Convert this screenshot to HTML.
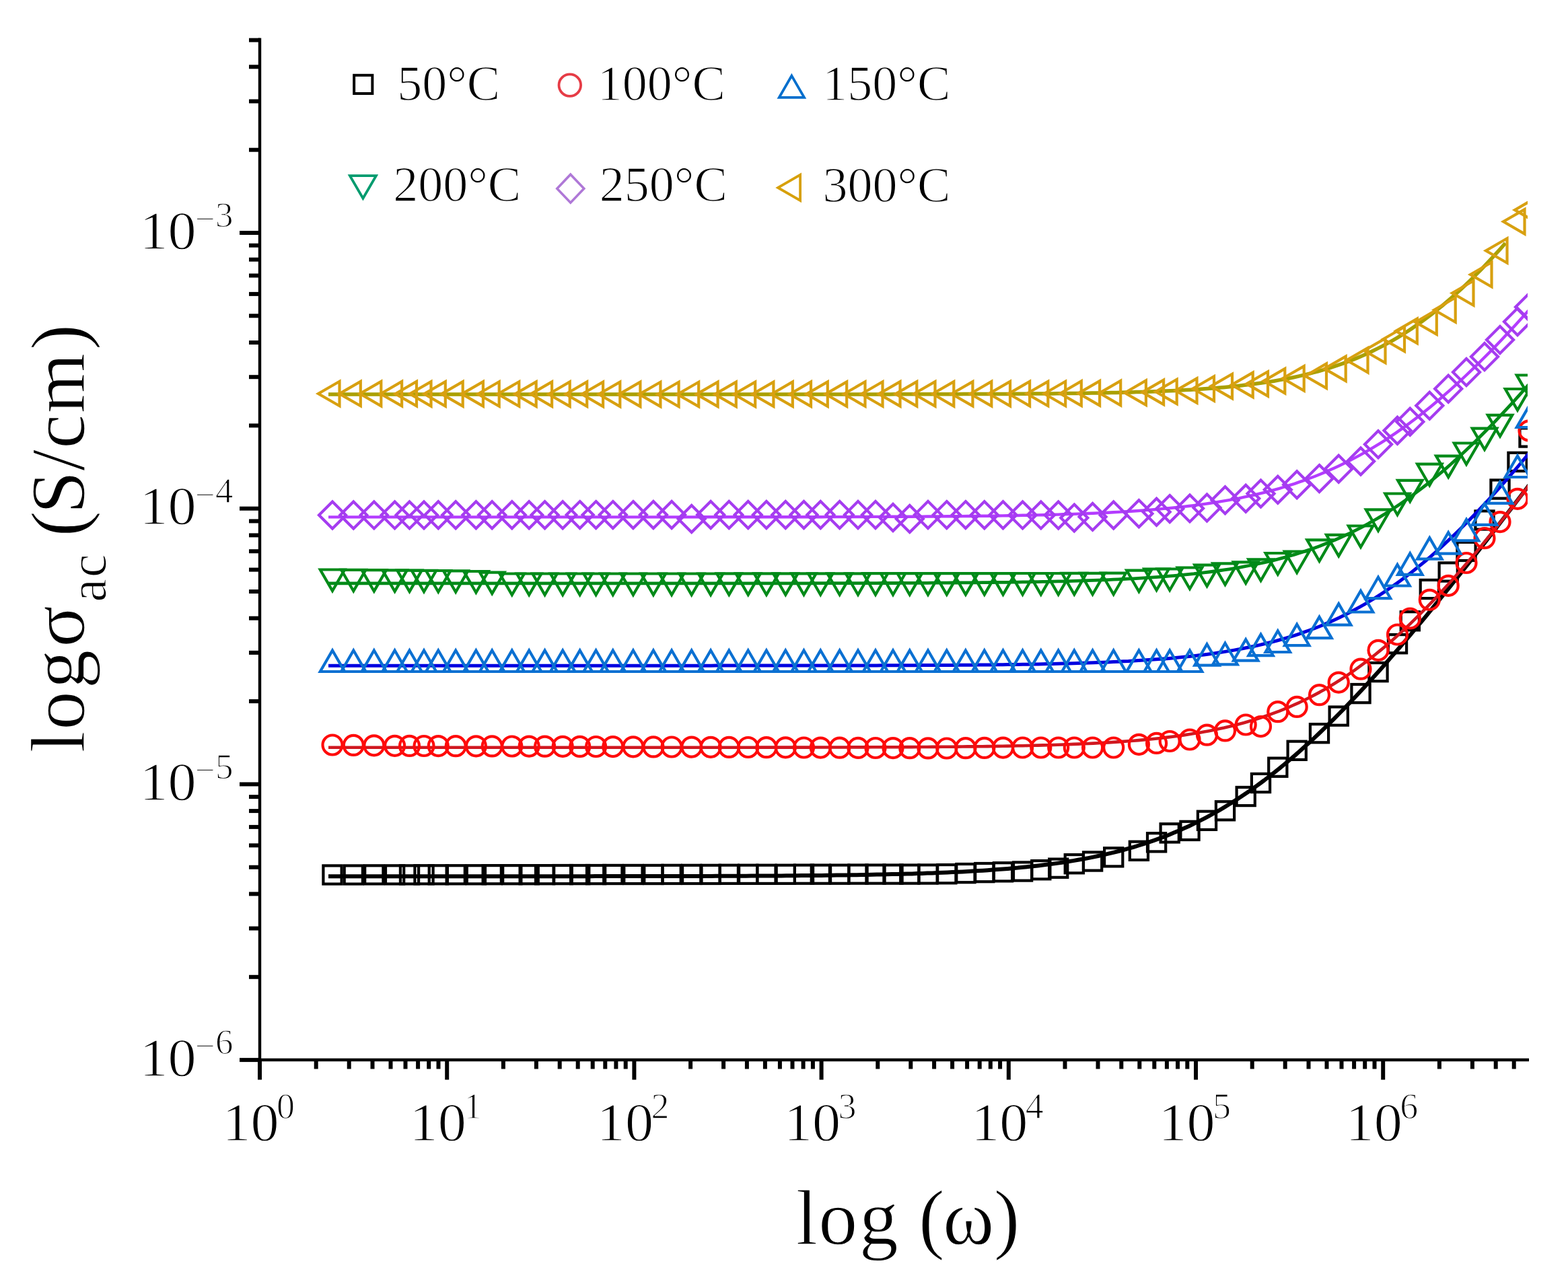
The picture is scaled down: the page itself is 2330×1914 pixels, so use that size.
<!DOCTYPE html><html><head><meta charset="utf-8"><title>log sigma_ac vs log omega</title><style>html,body{margin:0;padding:0;background:#fff;}svg{display:block}text{font-family:"Liberation Serif","DejaVu Serif",serif;fill:#000;stroke:#fff;stroke-width:1.3px;stroke-linejoin:round}</style></head><body>
<svg width="2330" height="1914" viewBox="0 0 2330 1914">
<rect width="2330" height="1914" fill="#fff"/>
<defs><clipPath id="pc"><rect x="386" y="0" width="1884.0" height="1575"/></clipPath></defs>
<g clip-path="url(#pc)">
<path d="M488.0 1302.2 L495.5 1302.2 L503.0 1302.2 L510.4 1302.2 L517.9 1302.2 L525.4 1302.2 L532.9 1302.2 L540.3 1302.2 L547.8 1302.2 L555.3 1302.2 L562.8 1302.2 L570.2 1302.2 L577.7 1302.2 L585.2 1302.2 L592.7 1302.2 L600.2 1302.2 L607.6 1302.2 L615.1 1302.2 L622.6 1302.2 L630.1 1302.2 L637.5 1302.2 L645.0 1302.2 L652.5 1302.2 L660.0 1302.2 L667.4 1302.2 L674.9 1302.2 L682.4 1302.2 L689.9 1302.2 L697.4 1302.2 L704.8 1302.2 L712.3 1302.2 L719.8 1302.2 L727.3 1302.2 L734.7 1302.2 L742.2 1302.2 L749.7 1302.2 L757.2 1302.2 L764.6 1302.2 L772.1 1302.2 L779.6 1302.2 L787.1 1302.2 L794.6 1302.2 L802.0 1302.2 L809.5 1302.2 L817.0 1302.2 L824.5 1302.2 L831.9 1302.2 L839.4 1302.2 L846.9 1302.2 L854.4 1302.2 L861.8 1302.2 L869.3 1302.2 L876.8 1302.2 L884.3 1302.1 L891.8 1302.1 L899.2 1302.1 L906.7 1302.1 L914.2 1302.1 L921.7 1302.1 L929.1 1302.1 L936.6 1302.1 L944.1 1302.1 L951.6 1302.1 L959.1 1302.1 L966.5 1302.1 L974.0 1302.0 L981.5 1302.0 L989.0 1302.0 L996.4 1302.0 L1003.9 1302.0 L1011.4 1302.0 L1018.9 1302.0 L1026.3 1301.9 L1033.8 1301.9 L1041.3 1301.9 L1048.8 1301.9 L1056.3 1301.9 L1063.7 1301.8 L1071.2 1301.8 L1078.7 1301.8 L1086.2 1301.8 L1093.6 1301.7 L1101.1 1301.7 L1108.6 1301.7 L1116.1 1301.6 L1123.5 1301.6 L1131.0 1301.6 L1138.5 1301.5 L1146.0 1301.5 L1153.5 1301.4 L1160.9 1301.4 L1168.4 1301.3 L1175.9 1301.3 L1183.4 1301.2 L1190.8 1301.1 L1198.3 1301.1 L1205.8 1301.0 L1213.3 1300.9 L1220.7 1300.9 L1228.2 1300.8 L1235.7 1300.7 L1243.2 1300.6 L1250.7 1300.5 L1258.1 1300.4 L1265.6 1300.3 L1273.1 1300.2 L1280.6 1300.0 L1288.0 1299.9 L1295.5 1299.8 L1303.0 1299.6 L1310.5 1299.5 L1317.9 1299.3 L1325.4 1299.1 L1332.9 1299.0 L1340.4 1298.8 L1347.9 1298.6 L1355.3 1298.4 L1362.8 1298.1 L1370.3 1297.9 L1377.8 1297.6 L1385.2 1297.4 L1392.7 1297.1 L1400.2 1296.8 L1407.7 1296.5 L1415.1 1296.1 L1422.6 1295.8 L1430.1 1295.4 L1437.6 1295.0 L1445.1 1294.6 L1452.5 1294.1 L1460.0 1293.7 L1467.5 1293.2 L1475.0 1292.6 L1482.4 1292.1 L1489.9 1291.5 L1497.4 1290.9 L1504.9 1290.2 L1512.3 1289.6 L1519.8 1288.8 L1527.3 1288.1 L1534.8 1287.3 L1542.3 1286.4 L1549.7 1285.5 L1557.2 1284.6 L1564.7 1283.6 L1572.2 1282.6 L1579.6 1281.5 L1587.1 1280.3 L1594.6 1279.1 L1602.1 1277.8 L1609.5 1276.5 L1617.0 1275.1 L1624.5 1273.6 L1632.0 1272.0 L1639.5 1270.4 L1646.9 1268.7 L1654.4 1266.9 L1661.9 1265.0 L1669.4 1263.0 L1676.8 1260.9 L1684.3 1258.8 L1691.8 1256.5 L1699.3 1254.1 L1706.7 1251.7 L1714.2 1249.1 L1721.7 1246.4 L1729.2 1243.6 L1736.7 1240.7 L1744.1 1237.6 L1751.6 1234.4 L1759.1 1231.1 L1766.6 1227.7 L1774.0 1224.1 L1781.5 1220.4 L1789.0 1216.6 L1796.5 1212.6 L1803.9 1208.5 L1811.4 1204.3 L1818.9 1199.9 L1826.4 1195.3 L1833.9 1190.6 L1841.3 1185.8 L1848.8 1180.8 L1856.3 1175.7 L1863.8 1170.4 L1871.2 1165.0 L1878.7 1159.5 L1886.2 1153.7 L1893.7 1147.9 L1901.2 1141.9 L1908.6 1135.8 L1916.1 1129.5 L1923.6 1123.1 L1931.1 1116.5 L1938.5 1109.8 L1946.0 1103.0 L1953.5 1096.1 L1961.0 1089.0 L1968.4 1081.8 L1975.9 1074.5 L1983.4 1067.1 L1990.9 1059.5 L1998.4 1051.9 L2005.8 1044.1 L2013.3 1036.2 L2020.8 1028.2 L2028.3 1020.2 L2035.7 1012.0 L2043.2 1003.7 L2050.7 995.4 L2058.2 987.0 L2065.6 978.4 L2073.1 969.8 L2080.6 961.2 L2088.1 952.4 L2095.6 943.6 L2103.0 934.7 L2110.5 925.8 L2118.0 916.8 L2125.5 907.7 L2132.9 898.5 L2140.4 889.4 L2147.9 880.1 L2155.4 870.8 L2162.8 861.5 L2170.3 852.1 L2177.8 842.7 L2185.3 833.2 L2192.8 823.7 L2200.2 814.2 L2207.7 804.6 L2215.2 795.0 L2222.7 785.4 L2230.1 775.7 L2237.6 766.0 L2245.1 756.3 L2252.6 746.5 L2260.0 736.8 L2267.5 727.0 L2275.0 717.1" fill="none" stroke="#000000" stroke-width="6.0" stroke-linejoin="round"/>
<rect x="480.4" y="1286.4" width="27.2" height="27.2" fill="none" stroke="#000000" stroke-width="4.2"/>
<rect x="511.7" y="1286.4" width="27.2" height="27.2" fill="none" stroke="#000000" stroke-width="4.2"/>
<rect x="542.2" y="1286.3" width="27.2" height="27.2" fill="none" stroke="#000000" stroke-width="4.2"/>
<rect x="573.0" y="1286.3" width="27.2" height="27.2" fill="none" stroke="#000000" stroke-width="4.2"/>
<rect x="594.9" y="1286.3" width="27.2" height="27.2" fill="none" stroke="#000000" stroke-width="4.2"/>
<rect x="616.4" y="1286.2" width="27.2" height="27.2" fill="none" stroke="#000000" stroke-width="4.2"/>
<rect x="637.7" y="1286.2" width="27.2" height="27.2" fill="none" stroke="#000000" stroke-width="4.2"/>
<rect x="663.6" y="1286.2" width="27.2" height="27.2" fill="none" stroke="#000000" stroke-width="4.2"/>
<rect x="693.8" y="1286.2" width="27.2" height="27.2" fill="none" stroke="#000000" stroke-width="4.2"/>
<rect x="717.6" y="1286.1" width="27.2" height="27.2" fill="none" stroke="#000000" stroke-width="4.2"/>
<rect x="747.2" y="1286.1" width="27.2" height="27.2" fill="none" stroke="#000000" stroke-width="4.2"/>
<rect x="772.6" y="1286.1" width="27.2" height="27.2" fill="none" stroke="#000000" stroke-width="4.2"/>
<rect x="796.0" y="1286.1" width="27.2" height="27.2" fill="none" stroke="#000000" stroke-width="4.2"/>
<rect x="822.6" y="1286.0" width="27.2" height="27.2" fill="none" stroke="#000000" stroke-width="4.2"/>
<rect x="848.1" y="1286.0" width="27.2" height="27.2" fill="none" stroke="#000000" stroke-width="4.2"/>
<rect x="872.0" y="1286.0" width="27.2" height="27.2" fill="none" stroke="#000000" stroke-width="4.2"/>
<rect x="897.2" y="1285.9" width="27.2" height="27.2" fill="none" stroke="#000000" stroke-width="4.2"/>
<rect x="927.3" y="1285.9" width="27.2" height="27.2" fill="none" stroke="#000000" stroke-width="4.2"/>
<rect x="957.3" y="1285.9" width="27.2" height="27.2" fill="none" stroke="#000000" stroke-width="4.2"/>
<rect x="984.5" y="1285.8" width="27.2" height="27.2" fill="none" stroke="#000000" stroke-width="4.2"/>
<rect x="1014.1" y="1285.8" width="27.2" height="27.2" fill="none" stroke="#000000" stroke-width="4.2"/>
<rect x="1042.5" y="1285.8" width="27.2" height="27.2" fill="none" stroke="#000000" stroke-width="4.2"/>
<rect x="1069.7" y="1285.7" width="27.2" height="27.2" fill="none" stroke="#000000" stroke-width="4.2"/>
<rect x="1098.1" y="1285.7" width="27.2" height="27.2" fill="none" stroke="#000000" stroke-width="4.2"/>
<rect x="1125.3" y="1285.7" width="27.2" height="27.2" fill="none" stroke="#000000" stroke-width="4.2"/>
<rect x="1153.7" y="1285.7" width="27.2" height="27.2" fill="none" stroke="#000000" stroke-width="4.2"/>
<rect x="1180.9" y="1285.6" width="27.2" height="27.2" fill="none" stroke="#000000" stroke-width="4.2"/>
<rect x="1205.7" y="1285.6" width="27.2" height="27.2" fill="none" stroke="#000000" stroke-width="4.2"/>
<rect x="1234.1" y="1285.6" width="27.2" height="27.2" fill="none" stroke="#000000" stroke-width="4.2"/>
<rect x="1261.4" y="1285.5" width="27.2" height="27.2" fill="none" stroke="#000000" stroke-width="4.2"/>
<rect x="1287.4" y="1285.5" width="27.2" height="27.2" fill="none" stroke="#000000" stroke-width="4.2"/>
<rect x="1313.4" y="1285.5" width="27.2" height="27.2" fill="none" stroke="#000000" stroke-width="4.2"/>
<rect x="1338.2" y="1285.5" width="27.2" height="27.2" fill="none" stroke="#000000" stroke-width="4.2"/>
<rect x="1365.4" y="1285.4" width="27.2" height="27.2" fill="none" stroke="#000000" stroke-width="4.2"/>
<rect x="1393.2" y="1285.1" width="27.2" height="27.2" fill="none" stroke="#000000" stroke-width="4.2"/>
<rect x="1421.3" y="1284.0" width="27.2" height="27.2" fill="none" stroke="#000000" stroke-width="4.2"/>
<rect x="1449.2" y="1283.0" width="27.2" height="27.2" fill="none" stroke="#000000" stroke-width="4.2"/>
<rect x="1476.9" y="1282.2" width="27.2" height="27.2" fill="none" stroke="#000000" stroke-width="4.2"/>
<rect x="1506.0" y="1281.4" width="27.2" height="27.2" fill="none" stroke="#000000" stroke-width="4.2"/>
<rect x="1533.2" y="1279.1" width="27.2" height="27.2" fill="none" stroke="#000000" stroke-width="4.2"/>
<rect x="1559.1" y="1276.6" width="27.2" height="27.2" fill="none" stroke="#000000" stroke-width="4.2"/>
<rect x="1582.7" y="1270.1" width="27.2" height="27.2" fill="none" stroke="#000000" stroke-width="4.2"/>
<rect x="1610.0" y="1266.4" width="27.2" height="27.2" fill="none" stroke="#000000" stroke-width="4.2"/>
<rect x="1641.1" y="1260.2" width="27.2" height="27.2" fill="none" stroke="#000000" stroke-width="4.2"/>
<rect x="1678.8" y="1250.7" width="27.2" height="27.2" fill="none" stroke="#000000" stroke-width="4.2"/>
<rect x="1705.0" y="1238.2" width="27.2" height="27.2" fill="none" stroke="#000000" stroke-width="4.2"/>
<rect x="1724.6" y="1224.3" width="27.2" height="27.2" fill="none" stroke="#000000" stroke-width="4.2"/>
<rect x="1754.4" y="1220.8" width="27.2" height="27.2" fill="none" stroke="#000000" stroke-width="4.2"/>
<rect x="1779.9" y="1205.7" width="27.2" height="27.2" fill="none" stroke="#000000" stroke-width="4.2"/>
<rect x="1806.9" y="1191.2" width="27.2" height="27.2" fill="none" stroke="#000000" stroke-width="4.2"/>
<rect x="1837.6" y="1169.9" width="27.2" height="27.2" fill="none" stroke="#000000" stroke-width="4.2"/>
<rect x="1859.9" y="1149.9" width="27.2" height="27.2" fill="none" stroke="#000000" stroke-width="4.2"/>
<rect x="1885.2" y="1126.6" width="27.2" height="27.2" fill="none" stroke="#000000" stroke-width="4.2"/>
<rect x="1913.6" y="1101.7" width="27.2" height="27.2" fill="none" stroke="#000000" stroke-width="4.2"/>
<rect x="1946.9" y="1076.1" width="27.2" height="27.2" fill="none" stroke="#000000" stroke-width="4.2"/>
<rect x="1975.6" y="1050.5" width="27.2" height="27.2" fill="none" stroke="#000000" stroke-width="4.2"/>
<rect x="2008.4" y="1017.0" width="27.2" height="27.2" fill="none" stroke="#000000" stroke-width="4.2"/>
<rect x="2034.4" y="985.0" width="27.2" height="27.2" fill="none" stroke="#000000" stroke-width="4.2"/>
<rect x="2062.9" y="943.1" width="27.2" height="27.2" fill="none" stroke="#000000" stroke-width="4.2"/>
<rect x="2081.7" y="909.2" width="27.2" height="27.2" fill="none" stroke="#000000" stroke-width="4.2"/>
<rect x="2110.7" y="861.9" width="27.2" height="27.2" fill="none" stroke="#000000" stroke-width="4.2"/>
<rect x="2138.6" y="836.4" width="27.2" height="27.2" fill="none" stroke="#000000" stroke-width="4.2"/>
<rect x="2165.4" y="805.8" width="27.2" height="27.2" fill="none" stroke="#000000" stroke-width="4.2"/>
<rect x="2192.4" y="759.4" width="27.2" height="27.2" fill="none" stroke="#000000" stroke-width="4.2"/>
<rect x="2215.4" y="713.4" width="27.2" height="27.2" fill="none" stroke="#000000" stroke-width="4.2"/>
<rect x="2241.4" y="672.8" width="27.2" height="27.2" fill="none" stroke="#000000" stroke-width="4.2"/>
<rect x="2258.4" y="636.4" width="27.2" height="27.2" fill="none" stroke="#000000" stroke-width="4.2"/>
<path d="M488.0 1110.7 L495.5 1110.7 L503.0 1110.7 L510.4 1110.7 L517.9 1110.7 L525.4 1110.7 L532.9 1110.7 L540.3 1110.7 L547.8 1110.7 L555.3 1110.7 L562.8 1110.7 L570.2 1110.7 L577.7 1110.7 L585.2 1110.7 L592.7 1110.7 L600.2 1110.7 L607.6 1110.7 L615.1 1110.7 L622.6 1110.7 L630.1 1110.7 L637.5 1110.7 L645.0 1110.7 L652.5 1110.7 L660.0 1110.7 L667.4 1110.7 L674.9 1110.7 L682.4 1110.7 L689.9 1110.7 L697.4 1110.7 L704.8 1110.7 L712.3 1110.7 L719.8 1110.7 L727.3 1110.7 L734.7 1110.7 L742.2 1110.7 L749.7 1110.7 L757.2 1110.7 L764.6 1110.7 L772.1 1110.7 L779.6 1110.7 L787.1 1110.7 L794.6 1110.7 L802.0 1110.7 L809.5 1110.7 L817.0 1110.7 L824.5 1110.7 L831.9 1110.7 L839.4 1110.7 L846.9 1110.7 L854.4 1110.7 L861.8 1110.7 L869.3 1110.7 L876.8 1110.7 L884.3 1110.7 L891.8 1110.7 L899.2 1110.7 L906.7 1110.7 L914.2 1110.7 L921.7 1110.7 L929.1 1110.7 L936.6 1110.7 L944.1 1110.7 L951.6 1110.7 L959.1 1110.7 L966.5 1110.7 L974.0 1110.7 L981.5 1110.7 L989.0 1110.7 L996.4 1110.7 L1003.9 1110.7 L1011.4 1110.7 L1018.9 1110.7 L1026.3 1110.7 L1033.8 1110.7 L1041.3 1110.7 L1048.8 1110.7 L1056.3 1110.7 L1063.7 1110.7 L1071.2 1110.7 L1078.7 1110.7 L1086.2 1110.7 L1093.6 1110.7 L1101.1 1110.7 L1108.6 1110.7 L1116.1 1110.7 L1123.5 1110.7 L1131.0 1110.6 L1138.5 1110.6 L1146.0 1110.6 L1153.5 1110.6 L1160.9 1110.6 L1168.4 1110.6 L1175.9 1110.6 L1183.4 1110.6 L1190.8 1110.6 L1198.3 1110.6 L1205.8 1110.6 L1213.3 1110.5 L1220.7 1110.5 L1228.2 1110.5 L1235.7 1110.5 L1243.2 1110.5 L1250.7 1110.5 L1258.1 1110.5 L1265.6 1110.4 L1273.1 1110.4 L1280.6 1110.4 L1288.0 1110.4 L1295.5 1110.3 L1303.0 1110.3 L1310.5 1110.3 L1317.9 1110.3 L1325.4 1110.2 L1332.9 1110.2 L1340.4 1110.2 L1347.9 1110.1 L1355.3 1110.1 L1362.8 1110.0 L1370.3 1110.0 L1377.8 1110.0 L1385.2 1109.9 L1392.7 1109.9 L1400.2 1109.8 L1407.7 1109.7 L1415.1 1109.7 L1422.6 1109.6 L1430.1 1109.5 L1437.6 1109.4 L1445.1 1109.4 L1452.5 1109.3 L1460.0 1109.2 L1467.5 1109.1 L1475.0 1109.0 L1482.4 1108.9 L1489.9 1108.7 L1497.4 1108.6 L1504.9 1108.5 L1512.3 1108.3 L1519.8 1108.2 L1527.3 1108.0 L1534.8 1107.8 L1542.3 1107.6 L1549.7 1107.4 L1557.2 1107.2 L1564.7 1107.0 L1572.2 1106.8 L1579.6 1106.5 L1587.1 1106.2 L1594.6 1105.9 L1602.1 1105.6 L1609.5 1105.3 L1617.0 1105.0 L1624.5 1104.6 L1632.0 1104.2 L1639.5 1103.8 L1646.9 1103.4 L1654.4 1102.9 L1661.9 1102.4 L1669.4 1101.9 L1676.8 1101.3 L1684.3 1100.7 L1691.8 1100.1 L1699.3 1099.4 L1706.7 1098.7 L1714.2 1098.0 L1721.7 1097.2 L1729.2 1096.3 L1736.7 1095.4 L1744.1 1094.5 L1751.6 1093.5 L1759.1 1092.4 L1766.6 1091.3 L1774.0 1090.1 L1781.5 1088.9 L1789.0 1087.6 L1796.5 1086.2 L1803.9 1084.7 L1811.4 1083.1 L1818.9 1081.5 L1826.4 1079.7 L1833.9 1077.9 L1841.3 1076.0 L1848.8 1074.0 L1856.3 1071.8 L1863.8 1069.6 L1871.2 1067.2 L1878.7 1064.7 L1886.2 1062.2 L1893.7 1059.4 L1901.2 1056.6 L1908.6 1053.6 L1916.1 1050.5 L1923.6 1047.2 L1931.1 1043.8 L1938.5 1040.2 L1946.0 1036.5 L1953.5 1032.6 L1961.0 1028.6 L1968.4 1024.4 L1975.9 1020.0 L1983.4 1015.5 L1990.9 1010.8 L1998.4 1005.9 L2005.8 1000.8 L2013.3 995.6 L2020.8 990.2 L2028.3 984.7 L2035.7 978.9 L2043.2 973.0 L2050.7 966.9 L2058.2 960.7 L2065.6 954.3 L2073.1 947.7 L2080.6 940.9 L2088.1 934.0 L2095.6 926.9 L2103.0 919.6 L2110.5 912.2 L2118.0 904.7 L2125.5 896.9 L2132.9 889.1 L2140.4 881.1 L2147.9 872.9 L2155.4 864.7 L2162.8 856.3 L2170.3 847.7 L2177.8 839.1 L2185.3 830.3 L2192.8 821.4 L2200.2 812.4 L2207.7 803.3 L2215.2 794.1 L2222.7 784.8 L2230.1 775.4 L2237.6 765.9 L2245.1 756.4 L2252.6 746.7 L2260.0 737.0 L2267.5 727.2 L2275.0 717.3" fill="none" stroke="#d01820" stroke-width="4.6" stroke-linejoin="round"/>
<circle cx="494.0" cy="1107.0" r="14.5" fill="none" stroke="#ff0a0a" stroke-width="4.2"/>
<circle cx="525.3" cy="1107.4" r="14.5" fill="none" stroke="#ff0a0a" stroke-width="4.2"/>
<circle cx="555.8" cy="1107.8" r="14.5" fill="none" stroke="#ff0a0a" stroke-width="4.2"/>
<circle cx="586.6" cy="1108.3" r="14.5" fill="none" stroke="#ff0a0a" stroke-width="4.2"/>
<circle cx="608.5" cy="1108.4" r="14.5" fill="none" stroke="#ff0a0a" stroke-width="4.2"/>
<circle cx="630.0" cy="1108.5" r="14.5" fill="none" stroke="#ff0a0a" stroke-width="4.2"/>
<circle cx="651.3" cy="1108.6" r="14.5" fill="none" stroke="#ff0a0a" stroke-width="4.2"/>
<circle cx="677.2" cy="1108.7" r="14.5" fill="none" stroke="#ff0a0a" stroke-width="4.2"/>
<circle cx="707.4" cy="1108.8" r="14.5" fill="none" stroke="#ff0a0a" stroke-width="4.2"/>
<circle cx="731.2" cy="1108.9" r="14.5" fill="none" stroke="#ff0a0a" stroke-width="4.2"/>
<circle cx="760.8" cy="1109.0" r="14.5" fill="none" stroke="#ff0a0a" stroke-width="4.2"/>
<circle cx="786.2" cy="1109.1" r="14.5" fill="none" stroke="#ff0a0a" stroke-width="4.2"/>
<circle cx="809.6" cy="1109.2" r="14.5" fill="none" stroke="#ff0a0a" stroke-width="4.2"/>
<circle cx="836.2" cy="1109.3" r="14.5" fill="none" stroke="#ff0a0a" stroke-width="4.2"/>
<circle cx="861.7" cy="1109.4" r="14.5" fill="none" stroke="#ff0a0a" stroke-width="4.2"/>
<circle cx="885.6" cy="1109.5" r="14.5" fill="none" stroke="#ff0a0a" stroke-width="4.2"/>
<circle cx="910.8" cy="1109.6" r="14.5" fill="none" stroke="#ff0a0a" stroke-width="4.2"/>
<circle cx="940.9" cy="1109.8" r="14.5" fill="none" stroke="#ff0a0a" stroke-width="4.2"/>
<circle cx="970.9" cy="1109.9" r="14.5" fill="none" stroke="#ff0a0a" stroke-width="4.2"/>
<circle cx="998.1" cy="1110.0" r="14.5" fill="none" stroke="#ff0a0a" stroke-width="4.2"/>
<circle cx="1027.7" cy="1110.1" r="14.5" fill="none" stroke="#ff0a0a" stroke-width="4.2"/>
<circle cx="1056.1" cy="1110.3" r="14.5" fill="none" stroke="#ff0a0a" stroke-width="4.2"/>
<circle cx="1083.3" cy="1110.4" r="14.5" fill="none" stroke="#ff0a0a" stroke-width="4.2"/>
<circle cx="1111.7" cy="1110.5" r="14.5" fill="none" stroke="#ff0a0a" stroke-width="4.2"/>
<circle cx="1138.9" cy="1110.7" r="14.5" fill="none" stroke="#ff0a0a" stroke-width="4.2"/>
<circle cx="1167.3" cy="1110.8" r="14.5" fill="none" stroke="#ff0a0a" stroke-width="4.2"/>
<circle cx="1194.5" cy="1111.0" r="14.5" fill="none" stroke="#ff0a0a" stroke-width="4.2"/>
<circle cx="1219.3" cy="1111.1" r="14.5" fill="none" stroke="#ff0a0a" stroke-width="4.2"/>
<circle cx="1247.7" cy="1111.2" r="14.5" fill="none" stroke="#ff0a0a" stroke-width="4.2"/>
<circle cx="1275.0" cy="1111.4" r="14.5" fill="none" stroke="#ff0a0a" stroke-width="4.2"/>
<circle cx="1301.0" cy="1111.5" r="14.5" fill="none" stroke="#ff0a0a" stroke-width="4.2"/>
<circle cx="1327.0" cy="1111.6" r="14.5" fill="none" stroke="#ff0a0a" stroke-width="4.2"/>
<circle cx="1351.8" cy="1111.7" r="14.5" fill="none" stroke="#ff0a0a" stroke-width="4.2"/>
<circle cx="1379.0" cy="1111.9" r="14.5" fill="none" stroke="#ff0a0a" stroke-width="4.2"/>
<circle cx="1406.8" cy="1112.0" r="14.5" fill="none" stroke="#ff0a0a" stroke-width="4.2"/>
<circle cx="1434.9" cy="1111.7" r="14.5" fill="none" stroke="#ff0a0a" stroke-width="4.2"/>
<circle cx="1462.8" cy="1111.4" r="14.5" fill="none" stroke="#ff0a0a" stroke-width="4.2"/>
<circle cx="1490.5" cy="1111.1" r="14.5" fill="none" stroke="#ff0a0a" stroke-width="4.2"/>
<circle cx="1519.6" cy="1111.0" r="14.5" fill="none" stroke="#ff0a0a" stroke-width="4.2"/>
<circle cx="1546.8" cy="1111.0" r="14.5" fill="none" stroke="#ff0a0a" stroke-width="4.2"/>
<circle cx="1572.7" cy="1111.0" r="14.5" fill="none" stroke="#ff0a0a" stroke-width="4.2"/>
<circle cx="1596.3" cy="1111.0" r="14.5" fill="none" stroke="#ff0a0a" stroke-width="4.2"/>
<circle cx="1623.6" cy="1111.0" r="14.5" fill="none" stroke="#ff0a0a" stroke-width="4.2"/>
<circle cx="1654.7" cy="1111.0" r="14.5" fill="none" stroke="#ff0a0a" stroke-width="4.2"/>
<circle cx="1692.4" cy="1106.3" r="14.5" fill="none" stroke="#ff0a0a" stroke-width="4.2"/>
<circle cx="1718.6" cy="1104.4" r="14.5" fill="none" stroke="#ff0a0a" stroke-width="4.2"/>
<circle cx="1738.2" cy="1101.5" r="14.5" fill="none" stroke="#ff0a0a" stroke-width="4.2"/>
<circle cx="1768.0" cy="1099.0" r="14.5" fill="none" stroke="#ff0a0a" stroke-width="4.2"/>
<circle cx="1793.5" cy="1092.2" r="14.5" fill="none" stroke="#ff0a0a" stroke-width="4.2"/>
<circle cx="1820.5" cy="1085.9" r="14.5" fill="none" stroke="#ff0a0a" stroke-width="4.2"/>
<circle cx="1851.2" cy="1077.0" r="14.5" fill="none" stroke="#ff0a0a" stroke-width="4.2"/>
<circle cx="1873.5" cy="1079.6" r="14.5" fill="none" stroke="#ff0a0a" stroke-width="4.2"/>
<circle cx="1898.8" cy="1057.7" r="14.5" fill="none" stroke="#ff0a0a" stroke-width="4.2"/>
<circle cx="1927.2" cy="1050.4" r="14.5" fill="none" stroke="#ff0a0a" stroke-width="4.2"/>
<circle cx="1960.5" cy="1032.7" r="14.5" fill="none" stroke="#ff0a0a" stroke-width="4.2"/>
<circle cx="1989.2" cy="1014.1" r="14.5" fill="none" stroke="#ff0a0a" stroke-width="4.2"/>
<circle cx="2022.0" cy="994.2" r="14.5" fill="none" stroke="#ff0a0a" stroke-width="4.2"/>
<circle cx="2048.0" cy="966.3" r="14.5" fill="none" stroke="#ff0a0a" stroke-width="4.2"/>
<circle cx="2076.5" cy="943.0" r="14.5" fill="none" stroke="#ff0a0a" stroke-width="4.2"/>
<circle cx="2095.3" cy="919.0" r="14.5" fill="none" stroke="#ff0a0a" stroke-width="4.2"/>
<circle cx="2124.3" cy="891.3" r="14.5" fill="none" stroke="#ff0a0a" stroke-width="4.2"/>
<circle cx="2152.2" cy="870.3" r="14.5" fill="none" stroke="#ff0a0a" stroke-width="4.2"/>
<circle cx="2179.0" cy="836.5" r="14.5" fill="none" stroke="#ff0a0a" stroke-width="4.2"/>
<circle cx="2206.0" cy="799.7" r="14.5" fill="none" stroke="#ff0a0a" stroke-width="4.2"/>
<circle cx="2229.0" cy="775.6" r="14.5" fill="none" stroke="#ff0a0a" stroke-width="4.2"/>
<circle cx="2255.0" cy="741.3" r="14.5" fill="none" stroke="#ff0a0a" stroke-width="4.2"/>
<circle cx="2272.0" cy="640.0" r="14.5" fill="none" stroke="#ff0a0a" stroke-width="4.2"/>
<path d="M488.0 989.2 L495.5 989.2 L503.0 989.2 L510.4 989.2 L517.9 989.2 L525.4 989.2 L532.9 989.2 L540.3 989.2 L547.8 989.2 L555.3 989.2 L562.8 989.2 L570.2 989.2 L577.7 989.2 L585.2 989.2 L592.7 989.2 L600.2 989.2 L607.6 989.2 L615.1 989.2 L622.6 989.2 L630.1 989.2 L637.5 989.2 L645.0 989.2 L652.5 989.2 L660.0 989.2 L667.4 989.2 L674.9 989.2 L682.4 989.2 L689.9 989.2 L697.4 989.2 L704.8 989.2 L712.3 989.2 L719.8 989.2 L727.3 989.2 L734.7 989.2 L742.2 989.2 L749.7 989.2 L757.2 989.2 L764.6 989.2 L772.1 989.2 L779.6 989.2 L787.1 989.2 L794.6 989.2 L802.0 989.2 L809.5 989.2 L817.0 989.2 L824.5 989.2 L831.9 989.2 L839.4 989.2 L846.9 989.2 L854.4 989.2 L861.8 989.2 L869.3 989.2 L876.8 989.2 L884.3 989.2 L891.8 989.2 L899.2 989.2 L906.7 989.2 L914.2 989.2 L921.7 989.2 L929.1 989.2 L936.6 989.2 L944.1 989.2 L951.6 989.2 L959.1 989.2 L966.5 989.2 L974.0 989.2 L981.5 989.2 L989.0 989.2 L996.4 989.2 L1003.9 989.2 L1011.4 989.2 L1018.9 989.2 L1026.3 989.2 L1033.8 989.2 L1041.3 989.2 L1048.8 989.2 L1056.3 989.2 L1063.7 989.1 L1071.2 989.1 L1078.7 989.1 L1086.2 989.1 L1093.6 989.1 L1101.1 989.1 L1108.6 989.1 L1116.1 989.1 L1123.5 989.1 L1131.0 989.1 L1138.5 989.1 L1146.0 989.1 L1153.5 989.1 L1160.9 989.1 L1168.4 989.1 L1175.9 989.1 L1183.4 989.1 L1190.8 989.1 L1198.3 989.1 L1205.8 989.0 L1213.3 989.0 L1220.7 989.0 L1228.2 989.0 L1235.7 989.0 L1243.2 989.0 L1250.7 989.0 L1258.1 989.0 L1265.6 989.0 L1273.1 988.9 L1280.6 988.9 L1288.0 988.9 L1295.5 988.9 L1303.0 988.9 L1310.5 988.8 L1317.9 988.8 L1325.4 988.8 L1332.9 988.8 L1340.4 988.8 L1347.9 988.7 L1355.3 988.7 L1362.8 988.7 L1370.3 988.6 L1377.8 988.6 L1385.2 988.6 L1392.7 988.5 L1400.2 988.5 L1407.7 988.4 L1415.1 988.4 L1422.6 988.3 L1430.1 988.3 L1437.6 988.2 L1445.1 988.2 L1452.5 988.1 L1460.0 988.0 L1467.5 988.0 L1475.0 987.9 L1482.4 987.8 L1489.9 987.7 L1497.4 987.6 L1504.9 987.5 L1512.3 987.4 L1519.8 987.3 L1527.3 987.2 L1534.8 987.0 L1542.3 986.9 L1549.7 986.8 L1557.2 986.6 L1564.7 986.5 L1572.2 986.3 L1579.6 986.1 L1587.1 985.9 L1594.6 985.7 L1602.1 985.5 L1609.5 985.3 L1617.0 985.0 L1624.5 984.8 L1632.0 984.5 L1639.5 984.2 L1646.9 983.9 L1654.4 983.6 L1661.9 983.2 L1669.4 982.8 L1676.8 982.5 L1684.3 982.0 L1691.8 981.6 L1699.3 981.1 L1706.7 980.6 L1714.2 980.1 L1721.7 979.6 L1729.2 979.0 L1736.7 978.4 L1744.1 977.7 L1751.6 977.0 L1759.1 976.3 L1766.6 975.5 L1774.0 974.7 L1781.5 973.8 L1789.0 972.9 L1796.5 971.9 L1803.9 970.9 L1811.4 969.8 L1818.9 968.6 L1826.4 967.4 L1833.9 966.1 L1841.3 964.8 L1848.8 963.3 L1856.3 961.8 L1863.8 960.3 L1871.2 958.6 L1878.7 956.8 L1886.2 955.0 L1893.7 953.1 L1901.2 951.0 L1908.6 948.9 L1916.1 946.6 L1923.6 944.3 L1931.1 941.8 L1938.5 939.2 L1946.0 936.5 L1953.5 933.7 L1961.0 930.7 L1968.4 927.6 L1975.9 924.4 L1983.4 921.0 L1990.9 917.5 L1998.4 913.8 L2005.8 910.0 L2013.3 906.0 L2020.8 901.9 L2028.3 897.6 L2035.7 893.2 L2043.2 888.6 L2050.7 883.8 L2058.2 878.9 L2065.6 873.8 L2073.1 868.6 L2080.6 863.2 L2088.1 857.6 L2095.6 851.9 L2103.0 846.0 L2110.5 839.9 L2118.0 833.7 L2125.5 827.3 L2132.9 820.8 L2140.4 814.1 L2147.9 807.2 L2155.4 800.2 L2162.8 793.0 L2170.3 785.7 L2177.8 778.3 L2185.3 770.7 L2192.8 763.0 L2200.2 755.1 L2207.7 747.2 L2215.2 739.1 L2222.7 730.8 L2230.1 722.5 L2237.6 714.0 L2245.1 705.4 L2252.6 696.8 L2260.0 688.0 L2267.5 679.1 L2275.0 670.1" fill="none" stroke="#0000e0" stroke-width="5.0" stroke-linejoin="round"/>
<path d="M494.0 966.5L512.2 998.0L475.8 998.0Z" fill="none" stroke="#0a70d2" stroke-width="4.2" stroke-linejoin="miter"/>
<path d="M525.3 966.5L543.5 998.0L507.1 998.0Z" fill="none" stroke="#0a70d2" stroke-width="4.2" stroke-linejoin="miter"/>
<path d="M555.8 966.5L574.0 998.0L537.6 998.0Z" fill="none" stroke="#0a70d2" stroke-width="4.2" stroke-linejoin="miter"/>
<path d="M586.6 966.5L604.8 998.0L568.4 998.0Z" fill="none" stroke="#0a70d2" stroke-width="4.2" stroke-linejoin="miter"/>
<path d="M608.5 966.5L626.7 998.0L590.3 998.0Z" fill="none" stroke="#0a70d2" stroke-width="4.2" stroke-linejoin="miter"/>
<path d="M630.0 966.5L648.2 998.0L611.8 998.0Z" fill="none" stroke="#0a70d2" stroke-width="4.2" stroke-linejoin="miter"/>
<path d="M651.3 966.5L669.5 998.0L633.1 998.0Z" fill="none" stroke="#0a70d2" stroke-width="4.2" stroke-linejoin="miter"/>
<path d="M677.2 966.5L695.4 998.0L659.0 998.0Z" fill="none" stroke="#0a70d2" stroke-width="4.2" stroke-linejoin="miter"/>
<path d="M707.4 966.5L725.6 998.0L689.2 998.0Z" fill="none" stroke="#0a70d2" stroke-width="4.2" stroke-linejoin="miter"/>
<path d="M731.2 966.5L749.4 998.0L713.0 998.0Z" fill="none" stroke="#0a70d2" stroke-width="4.2" stroke-linejoin="miter"/>
<path d="M760.8 966.5L779.0 998.0L742.6 998.0Z" fill="none" stroke="#0a70d2" stroke-width="4.2" stroke-linejoin="miter"/>
<path d="M786.2 966.5L804.4 998.0L768.0 998.0Z" fill="none" stroke="#0a70d2" stroke-width="4.2" stroke-linejoin="miter"/>
<path d="M809.6 966.5L827.8 998.0L791.4 998.0Z" fill="none" stroke="#0a70d2" stroke-width="4.2" stroke-linejoin="miter"/>
<path d="M836.2 966.5L854.4 998.0L818.0 998.0Z" fill="none" stroke="#0a70d2" stroke-width="4.2" stroke-linejoin="miter"/>
<path d="M861.7 966.5L879.9 998.0L843.5 998.0Z" fill="none" stroke="#0a70d2" stroke-width="4.2" stroke-linejoin="miter"/>
<path d="M885.6 966.5L903.8 998.0L867.4 998.0Z" fill="none" stroke="#0a70d2" stroke-width="4.2" stroke-linejoin="miter"/>
<path d="M910.8 966.5L929.0 998.0L892.6 998.0Z" fill="none" stroke="#0a70d2" stroke-width="4.2" stroke-linejoin="miter"/>
<path d="M940.9 966.5L959.1 998.0L922.7 998.0Z" fill="none" stroke="#0a70d2" stroke-width="4.2" stroke-linejoin="miter"/>
<path d="M970.9 966.5L989.1 998.0L952.7 998.0Z" fill="none" stroke="#0a70d2" stroke-width="4.2" stroke-linejoin="miter"/>
<path d="M998.1 966.5L1016.3 998.0L979.9 998.0Z" fill="none" stroke="#0a70d2" stroke-width="4.2" stroke-linejoin="miter"/>
<path d="M1027.7 966.5L1045.9 998.0L1009.5 998.0Z" fill="none" stroke="#0a70d2" stroke-width="4.2" stroke-linejoin="miter"/>
<path d="M1056.1 966.5L1074.3 998.0L1037.9 998.0Z" fill="none" stroke="#0a70d2" stroke-width="4.2" stroke-linejoin="miter"/>
<path d="M1083.3 966.5L1101.5 998.0L1065.1 998.0Z" fill="none" stroke="#0a70d2" stroke-width="4.2" stroke-linejoin="miter"/>
<path d="M1111.7 966.5L1129.9 998.0L1093.5 998.0Z" fill="none" stroke="#0a70d2" stroke-width="4.2" stroke-linejoin="miter"/>
<path d="M1138.9 966.5L1157.1 998.0L1120.7 998.0Z" fill="none" stroke="#0a70d2" stroke-width="4.2" stroke-linejoin="miter"/>
<path d="M1167.3 966.5L1185.5 998.0L1149.1 998.0Z" fill="none" stroke="#0a70d2" stroke-width="4.2" stroke-linejoin="miter"/>
<path d="M1194.5 966.5L1212.7 998.0L1176.3 998.0Z" fill="none" stroke="#0a70d2" stroke-width="4.2" stroke-linejoin="miter"/>
<path d="M1219.3 966.5L1237.5 998.0L1201.1 998.0Z" fill="none" stroke="#0a70d2" stroke-width="4.2" stroke-linejoin="miter"/>
<path d="M1247.7 966.5L1265.9 998.0L1229.5 998.0Z" fill="none" stroke="#0a70d2" stroke-width="4.2" stroke-linejoin="miter"/>
<path d="M1275.0 966.5L1293.2 998.0L1256.8 998.0Z" fill="none" stroke="#0a70d2" stroke-width="4.2" stroke-linejoin="miter"/>
<path d="M1301.0 966.5L1319.2 998.0L1282.8 998.0Z" fill="none" stroke="#0a70d2" stroke-width="4.2" stroke-linejoin="miter"/>
<path d="M1327.0 966.5L1345.2 998.0L1308.8 998.0Z" fill="none" stroke="#0a70d2" stroke-width="4.2" stroke-linejoin="miter"/>
<path d="M1351.8 966.5L1370.0 998.0L1333.6 998.0Z" fill="none" stroke="#0a70d2" stroke-width="4.2" stroke-linejoin="miter"/>
<path d="M1379.0 966.5L1397.2 998.0L1360.8 998.0Z" fill="none" stroke="#0a70d2" stroke-width="4.2" stroke-linejoin="miter"/>
<path d="M1406.8 966.5L1425.0 998.0L1388.6 998.0Z" fill="none" stroke="#0a70d2" stroke-width="4.2" stroke-linejoin="miter"/>
<path d="M1434.9 966.5L1453.1 998.0L1416.7 998.0Z" fill="none" stroke="#0a70d2" stroke-width="4.2" stroke-linejoin="miter"/>
<path d="M1462.8 966.5L1481.0 998.0L1444.6 998.0Z" fill="none" stroke="#0a70d2" stroke-width="4.2" stroke-linejoin="miter"/>
<path d="M1490.5 966.5L1508.7 998.0L1472.3 998.0Z" fill="none" stroke="#0a70d2" stroke-width="4.2" stroke-linejoin="miter"/>
<path d="M1519.6 966.5L1537.8 998.0L1501.4 998.0Z" fill="none" stroke="#0a70d2" stroke-width="4.2" stroke-linejoin="miter"/>
<path d="M1546.8 966.5L1565.0 998.0L1528.6 998.0Z" fill="none" stroke="#0a70d2" stroke-width="4.2" stroke-linejoin="miter"/>
<path d="M1572.7 966.5L1590.9 998.0L1554.5 998.0Z" fill="none" stroke="#0a70d2" stroke-width="4.2" stroke-linejoin="miter"/>
<path d="M1596.3 966.5L1614.5 998.0L1578.1 998.0Z" fill="none" stroke="#0a70d2" stroke-width="4.2" stroke-linejoin="miter"/>
<path d="M1623.6 966.5L1641.8 998.0L1605.4 998.0Z" fill="none" stroke="#0a70d2" stroke-width="4.2" stroke-linejoin="miter"/>
<path d="M1654.7 966.5L1672.9 998.0L1636.5 998.0Z" fill="none" stroke="#0a70d2" stroke-width="4.2" stroke-linejoin="miter"/>
<path d="M1692.4 966.5L1710.6 998.0L1674.2 998.0Z" fill="none" stroke="#0a70d2" stroke-width="4.2" stroke-linejoin="miter"/>
<path d="M1718.6 966.5L1736.8 998.0L1700.4 998.0Z" fill="none" stroke="#0a70d2" stroke-width="4.2" stroke-linejoin="miter"/>
<path d="M1738.2 966.5L1756.4 998.0L1720.0 998.0Z" fill="none" stroke="#0a70d2" stroke-width="4.2" stroke-linejoin="miter"/>
<path d="M1768.0 966.5L1786.2 998.0L1749.8 998.0Z" fill="none" stroke="#0a70d2" stroke-width="4.2" stroke-linejoin="miter"/>
<path d="M1793.5 957.2L1811.7 988.7L1775.3 988.7Z" fill="none" stroke="#0a70d2" stroke-width="4.2" stroke-linejoin="miter"/>
<path d="M1820.5 955.8L1838.7 987.3L1802.3 987.3Z" fill="none" stroke="#0a70d2" stroke-width="4.2" stroke-linejoin="miter"/>
<path d="M1851.2 950.2L1869.4 981.7L1833.0 981.7Z" fill="none" stroke="#0a70d2" stroke-width="4.2" stroke-linejoin="miter"/>
<path d="M1873.5 942.6L1891.7 974.1L1855.3 974.1Z" fill="none" stroke="#0a70d2" stroke-width="4.2" stroke-linejoin="miter"/>
<path d="M1898.8 937.5L1917.0 969.0L1880.6 969.0Z" fill="none" stroke="#0a70d2" stroke-width="4.2" stroke-linejoin="miter"/>
<path d="M1927.2 927.7L1945.4 959.2L1909.0 959.2Z" fill="none" stroke="#0a70d2" stroke-width="4.2" stroke-linejoin="miter"/>
<path d="M1960.5 916.7L1978.7 948.2L1942.3 948.2Z" fill="none" stroke="#0a70d2" stroke-width="4.2" stroke-linejoin="miter"/>
<path d="M1989.2 897.1L2007.4 928.6L1971.0 928.6Z" fill="none" stroke="#0a70d2" stroke-width="4.2" stroke-linejoin="miter"/>
<path d="M2022.0 878.0L2040.2 909.5L2003.8 909.5Z" fill="none" stroke="#0a70d2" stroke-width="4.2" stroke-linejoin="miter"/>
<path d="M2048.0 857.7L2066.2 889.2L2029.8 889.2Z" fill="none" stroke="#0a70d2" stroke-width="4.2" stroke-linejoin="miter"/>
<path d="M2076.5 839.0L2094.7 870.5L2058.3 870.5Z" fill="none" stroke="#0a70d2" stroke-width="4.2" stroke-linejoin="miter"/>
<path d="M2095.3 822.3L2113.5 853.8L2077.1 853.8Z" fill="none" stroke="#0a70d2" stroke-width="4.2" stroke-linejoin="miter"/>
<path d="M2124.3 799.1L2142.5 830.6L2106.1 830.6Z" fill="none" stroke="#0a70d2" stroke-width="4.2" stroke-linejoin="miter"/>
<path d="M2152.2 791.2L2170.4 822.7L2134.0 822.7Z" fill="none" stroke="#0a70d2" stroke-width="4.2" stroke-linejoin="miter"/>
<path d="M2179.0 771.9L2197.2 803.4L2160.8 803.4Z" fill="none" stroke="#0a70d2" stroke-width="4.2" stroke-linejoin="miter"/>
<path d="M2206.0 748.4L2224.2 779.9L2187.8 779.9Z" fill="none" stroke="#0a70d2" stroke-width="4.2" stroke-linejoin="miter"/>
<path d="M2229.0 716.3L2247.2 747.8L2210.8 747.8Z" fill="none" stroke="#0a70d2" stroke-width="4.2" stroke-linejoin="miter"/>
<path d="M2255.0 677.5L2273.2 709.0L2236.8 709.0Z" fill="none" stroke="#0a70d2" stroke-width="4.2" stroke-linejoin="miter"/>
<path d="M2272.0 603.5L2290.2 635.0L2253.8 635.0Z" fill="none" stroke="#0a70d2" stroke-width="4.2" stroke-linejoin="miter"/>
<path d="M488.0 866.9 L495.5 866.9 L503.0 866.9 L510.4 866.9 L517.9 866.9 L525.4 866.9 L532.9 866.9 L540.3 866.9 L547.8 866.9 L555.3 866.9 L562.8 866.9 L570.2 866.9 L577.7 866.9 L585.2 866.9 L592.7 866.9 L600.2 866.9 L607.6 866.9 L615.1 866.9 L622.6 866.9 L630.1 866.9 L637.5 866.9 L645.0 866.9 L652.5 866.9 L660.0 866.9 L667.4 866.9 L674.9 866.9 L682.4 866.9 L689.9 866.9 L697.4 866.9 L704.8 866.9 L712.3 866.9 L719.8 866.9 L727.3 866.9 L734.7 866.9 L742.2 866.9 L749.7 866.9 L757.2 866.9 L764.6 866.9 L772.1 866.9 L779.6 866.9 L787.1 866.9 L794.6 866.9 L802.0 866.9 L809.5 866.9 L817.0 866.9 L824.5 866.9 L831.9 866.9 L839.4 866.9 L846.9 866.9 L854.4 866.9 L861.8 866.9 L869.3 866.9 L876.8 866.9 L884.3 866.9 L891.8 866.9 L899.2 866.9 L906.7 866.9 L914.2 866.9 L921.7 866.9 L929.1 866.9 L936.6 866.9 L944.1 866.9 L951.6 866.9 L959.1 866.9 L966.5 866.9 L974.0 866.9 L981.5 866.9 L989.0 866.9 L996.4 866.9 L1003.9 866.9 L1011.4 866.9 L1018.9 866.9 L1026.3 866.9 L1033.8 866.9 L1041.3 866.9 L1048.8 866.9 L1056.3 866.9 L1063.7 866.9 L1071.2 866.9 L1078.7 866.9 L1086.2 866.9 L1093.6 866.8 L1101.1 866.8 L1108.6 866.8 L1116.1 866.8 L1123.5 866.8 L1131.0 866.8 L1138.5 866.8 L1146.0 866.8 L1153.5 866.8 L1160.9 866.8 L1168.4 866.8 L1175.9 866.8 L1183.4 866.8 L1190.8 866.8 L1198.3 866.8 L1205.8 866.8 L1213.3 866.7 L1220.7 866.7 L1228.2 866.7 L1235.7 866.7 L1243.2 866.7 L1250.7 866.7 L1258.1 866.7 L1265.6 866.7 L1273.1 866.6 L1280.6 866.6 L1288.0 866.6 L1295.5 866.6 L1303.0 866.6 L1310.5 866.5 L1317.9 866.5 L1325.4 866.5 L1332.9 866.5 L1340.4 866.4 L1347.9 866.4 L1355.3 866.4 L1362.8 866.3 L1370.3 866.3 L1377.8 866.3 L1385.2 866.2 L1392.7 866.2 L1400.2 866.1 L1407.7 866.1 L1415.1 866.0 L1422.6 866.0 L1430.1 865.9 L1437.6 865.9 L1445.1 865.8 L1452.5 865.8 L1460.0 865.7 L1467.5 865.6 L1475.0 865.5 L1482.4 865.4 L1489.9 865.4 L1497.4 865.3 L1504.9 865.2 L1512.3 865.1 L1519.8 864.9 L1527.3 864.8 L1534.8 864.7 L1542.3 864.6 L1549.7 864.4 L1557.2 864.3 L1564.7 864.1 L1572.2 863.9 L1579.6 863.8 L1587.1 863.6 L1594.6 863.4 L1602.1 863.1 L1609.5 862.9 L1617.0 862.7 L1624.5 862.4 L1632.0 862.2 L1639.5 861.9 L1646.9 861.6 L1654.4 861.2 L1661.9 860.9 L1669.4 860.5 L1676.8 860.2 L1684.3 859.8 L1691.8 859.3 L1699.3 858.9 L1706.7 858.4 L1714.2 857.9 L1721.7 857.4 L1729.2 856.8 L1736.7 856.2 L1744.1 855.6 L1751.6 854.9 L1759.1 854.2 L1766.6 853.4 L1774.0 852.7 L1781.5 851.8 L1789.0 850.9 L1796.5 850.0 L1803.9 849.0 L1811.4 848.0 L1818.9 846.9 L1826.4 845.8 L1833.9 844.6 L1841.3 843.3 L1848.8 841.9 L1856.3 840.5 L1863.8 839.1 L1871.2 837.5 L1878.7 835.8 L1886.2 834.1 L1893.7 832.3 L1901.2 830.4 L1908.6 828.4 L1916.1 826.3 L1923.6 824.1 L1931.1 821.8 L1938.5 819.4 L1946.0 816.9 L1953.5 814.2 L1961.0 811.5 L1968.4 808.6 L1975.9 805.6 L1983.4 802.5 L1990.9 799.2 L1998.4 795.8 L2005.8 792.3 L2013.3 788.6 L2020.8 784.8 L2028.3 780.8 L2035.7 776.7 L2043.2 772.5 L2050.7 768.1 L2058.2 763.5 L2065.6 758.8 L2073.1 753.9 L2080.6 748.9 L2088.1 743.7 L2095.6 738.4 L2103.0 732.9 L2110.5 727.3 L2118.0 721.5 L2125.5 715.5 L2132.9 709.4 L2140.4 703.2 L2147.9 696.8 L2155.4 690.2 L2162.8 683.5 L2170.3 676.7 L2177.8 669.7 L2185.3 662.6 L2192.8 655.4 L2200.2 648.0 L2207.7 640.5 L2215.2 632.9 L2222.7 625.1 L2230.1 617.2 L2237.6 609.2 L2245.1 601.1 L2252.6 592.9 L2260.0 584.6 L2267.5 576.2 L2275.0 567.7" fill="none" stroke="#008a18" stroke-width="4.8" stroke-linejoin="round"/>
<path d="M494.0 878.0L512.2 846.5L475.8 846.5Z" fill="none" stroke="#008a18" stroke-width="4.2" stroke-linejoin="miter"/>
<path d="M525.3 878.3L543.5 846.8L507.1 846.8Z" fill="none" stroke="#008a18" stroke-width="4.2" stroke-linejoin="miter"/>
<path d="M555.8 878.6L574.0 847.1L537.6 847.1Z" fill="none" stroke="#008a18" stroke-width="4.2" stroke-linejoin="miter"/>
<path d="M586.6 878.9L604.8 847.4L568.4 847.4Z" fill="none" stroke="#008a18" stroke-width="4.2" stroke-linejoin="miter"/>
<path d="M608.5 879.1L626.7 847.6L590.3 847.6Z" fill="none" stroke="#008a18" stroke-width="4.2" stroke-linejoin="miter"/>
<path d="M630.0 879.3L648.2 847.8L611.8 847.8Z" fill="none" stroke="#008a18" stroke-width="4.2" stroke-linejoin="miter"/>
<path d="M651.3 879.5L669.5 848.0L633.1 848.0Z" fill="none" stroke="#008a18" stroke-width="4.2" stroke-linejoin="miter"/>
<path d="M677.2 879.8L695.4 848.3L659.0 848.3Z" fill="none" stroke="#008a18" stroke-width="4.2" stroke-linejoin="miter"/>
<path d="M707.4 880.5L725.6 849.0L689.2 849.0Z" fill="none" stroke="#008a18" stroke-width="4.2" stroke-linejoin="miter"/>
<path d="M731.2 882.1L749.4 850.6L713.0 850.6Z" fill="none" stroke="#008a18" stroke-width="4.2" stroke-linejoin="miter"/>
<path d="M760.8 884.0L779.0 852.5L742.6 852.5Z" fill="none" stroke="#008a18" stroke-width="4.2" stroke-linejoin="miter"/>
<path d="M786.2 884.0L804.4 852.5L768.0 852.5Z" fill="none" stroke="#008a18" stroke-width="4.2" stroke-linejoin="miter"/>
<path d="M809.6 884.0L827.8 852.5L791.4 852.5Z" fill="none" stroke="#008a18" stroke-width="4.2" stroke-linejoin="miter"/>
<path d="M836.2 884.0L854.4 852.5L818.0 852.5Z" fill="none" stroke="#008a18" stroke-width="4.2" stroke-linejoin="miter"/>
<path d="M861.7 884.0L879.9 852.5L843.5 852.5Z" fill="none" stroke="#008a18" stroke-width="4.2" stroke-linejoin="miter"/>
<path d="M885.6 884.0L903.8 852.5L867.4 852.5Z" fill="none" stroke="#008a18" stroke-width="4.2" stroke-linejoin="miter"/>
<path d="M910.8 884.0L929.0 852.5L892.6 852.5Z" fill="none" stroke="#008a18" stroke-width="4.2" stroke-linejoin="miter"/>
<path d="M940.9 884.0L959.1 852.5L922.7 852.5Z" fill="none" stroke="#008a18" stroke-width="4.2" stroke-linejoin="miter"/>
<path d="M970.9 884.0L989.1 852.5L952.7 852.5Z" fill="none" stroke="#008a18" stroke-width="4.2" stroke-linejoin="miter"/>
<path d="M998.1 884.0L1016.3 852.5L979.9 852.5Z" fill="none" stroke="#008a18" stroke-width="4.2" stroke-linejoin="miter"/>
<path d="M1027.7 884.0L1045.9 852.5L1009.5 852.5Z" fill="none" stroke="#008a18" stroke-width="4.2" stroke-linejoin="miter"/>
<path d="M1056.1 884.0L1074.3 852.5L1037.9 852.5Z" fill="none" stroke="#008a18" stroke-width="4.2" stroke-linejoin="miter"/>
<path d="M1083.3 883.9L1101.5 852.4L1065.1 852.4Z" fill="none" stroke="#008a18" stroke-width="4.2" stroke-linejoin="miter"/>
<path d="M1111.7 883.9L1129.9 852.4L1093.5 852.4Z" fill="none" stroke="#008a18" stroke-width="4.2" stroke-linejoin="miter"/>
<path d="M1138.9 883.9L1157.1 852.4L1120.7 852.4Z" fill="none" stroke="#008a18" stroke-width="4.2" stroke-linejoin="miter"/>
<path d="M1167.3 883.9L1185.5 852.4L1149.1 852.4Z" fill="none" stroke="#008a18" stroke-width="4.2" stroke-linejoin="miter"/>
<path d="M1194.5 883.8L1212.7 852.3L1176.3 852.3Z" fill="none" stroke="#008a18" stroke-width="4.2" stroke-linejoin="miter"/>
<path d="M1219.3 883.8L1237.5 852.3L1201.1 852.3Z" fill="none" stroke="#008a18" stroke-width="4.2" stroke-linejoin="miter"/>
<path d="M1247.7 883.8L1265.9 852.3L1229.5 852.3Z" fill="none" stroke="#008a18" stroke-width="4.2" stroke-linejoin="miter"/>
<path d="M1275.0 883.8L1293.2 852.3L1256.8 852.3Z" fill="none" stroke="#008a18" stroke-width="4.2" stroke-linejoin="miter"/>
<path d="M1301.0 883.7L1319.2 852.2L1282.8 852.2Z" fill="none" stroke="#008a18" stroke-width="4.2" stroke-linejoin="miter"/>
<path d="M1327.0 883.7L1345.2 852.2L1308.8 852.2Z" fill="none" stroke="#008a18" stroke-width="4.2" stroke-linejoin="miter"/>
<path d="M1351.8 883.7L1370.0 852.2L1333.6 852.2Z" fill="none" stroke="#008a18" stroke-width="4.2" stroke-linejoin="miter"/>
<path d="M1379.0 883.7L1397.2 852.2L1360.8 852.2Z" fill="none" stroke="#008a18" stroke-width="4.2" stroke-linejoin="miter"/>
<path d="M1406.8 883.6L1425.0 852.1L1388.6 852.1Z" fill="none" stroke="#008a18" stroke-width="4.2" stroke-linejoin="miter"/>
<path d="M1434.9 883.6L1453.1 852.1L1416.7 852.1Z" fill="none" stroke="#008a18" stroke-width="4.2" stroke-linejoin="miter"/>
<path d="M1462.8 883.6L1481.0 852.1L1444.6 852.1Z" fill="none" stroke="#008a18" stroke-width="4.2" stroke-linejoin="miter"/>
<path d="M1490.5 883.6L1508.7 852.1L1472.3 852.1Z" fill="none" stroke="#008a18" stroke-width="4.2" stroke-linejoin="miter"/>
<path d="M1519.6 883.5L1537.8 852.0L1501.4 852.0Z" fill="none" stroke="#008a18" stroke-width="4.2" stroke-linejoin="miter"/>
<path d="M1546.8 883.5L1565.0 852.0L1528.6 852.0Z" fill="none" stroke="#008a18" stroke-width="4.2" stroke-linejoin="miter"/>
<path d="M1572.7 883.5L1590.9 852.0L1554.5 852.0Z" fill="none" stroke="#008a18" stroke-width="4.2" stroke-linejoin="miter"/>
<path d="M1596.3 883.4L1614.5 851.9L1578.1 851.9Z" fill="none" stroke="#008a18" stroke-width="4.2" stroke-linejoin="miter"/>
<path d="M1623.6 883.3L1641.8 851.8L1605.4 851.8Z" fill="none" stroke="#008a18" stroke-width="4.2" stroke-linejoin="miter"/>
<path d="M1654.7 883.2L1672.9 851.7L1636.5 851.7Z" fill="none" stroke="#008a18" stroke-width="4.2" stroke-linejoin="miter"/>
<path d="M1692.4 879.1L1710.6 847.6L1674.2 847.6Z" fill="none" stroke="#008a18" stroke-width="4.2" stroke-linejoin="miter"/>
<path d="M1718.6 877.0L1736.8 845.5L1700.4 845.5Z" fill="none" stroke="#008a18" stroke-width="4.2" stroke-linejoin="miter"/>
<path d="M1738.2 877.0L1756.4 845.5L1720.0 845.5Z" fill="none" stroke="#008a18" stroke-width="4.2" stroke-linejoin="miter"/>
<path d="M1768.0 875.0L1786.2 843.5L1749.8 843.5Z" fill="none" stroke="#008a18" stroke-width="4.2" stroke-linejoin="miter"/>
<path d="M1793.5 871.1L1811.7 839.6L1775.3 839.6Z" fill="none" stroke="#008a18" stroke-width="4.2" stroke-linejoin="miter"/>
<path d="M1820.5 868.9L1838.7 837.4L1802.3 837.4Z" fill="none" stroke="#008a18" stroke-width="4.2" stroke-linejoin="miter"/>
<path d="M1851.2 866.8L1869.4 835.3L1833.0 835.3Z" fill="none" stroke="#008a18" stroke-width="4.2" stroke-linejoin="miter"/>
<path d="M1873.5 862.9L1891.7 831.4L1855.3 831.4Z" fill="none" stroke="#008a18" stroke-width="4.2" stroke-linejoin="miter"/>
<path d="M1898.8 853.5L1917.0 822.0L1880.6 822.0Z" fill="none" stroke="#008a18" stroke-width="4.2" stroke-linejoin="miter"/>
<path d="M1927.2 851.0L1945.4 819.5L1909.0 819.5Z" fill="none" stroke="#008a18" stroke-width="4.2" stroke-linejoin="miter"/>
<path d="M1960.5 833.9L1978.7 802.4L1942.3 802.4Z" fill="none" stroke="#008a18" stroke-width="4.2" stroke-linejoin="miter"/>
<path d="M1989.2 826.4L2007.4 794.9L1971.0 794.9Z" fill="none" stroke="#008a18" stroke-width="4.2" stroke-linejoin="miter"/>
<path d="M2022.0 813.0L2040.2 781.5L2003.8 781.5Z" fill="none" stroke="#008a18" stroke-width="4.2" stroke-linejoin="miter"/>
<path d="M2048.0 788.8L2066.2 757.3L2029.8 757.3Z" fill="none" stroke="#008a18" stroke-width="4.2" stroke-linejoin="miter"/>
<path d="M2076.5 765.0L2094.7 733.5L2058.3 733.5Z" fill="none" stroke="#008a18" stroke-width="4.2" stroke-linejoin="miter"/>
<path d="M2095.3 745.3L2113.5 713.8L2077.1 713.8Z" fill="none" stroke="#008a18" stroke-width="4.2" stroke-linejoin="miter"/>
<path d="M2124.3 721.2L2142.5 689.7L2106.1 689.7Z" fill="none" stroke="#008a18" stroke-width="4.2" stroke-linejoin="miter"/>
<path d="M2152.2 709.1L2170.4 677.6L2134.0 677.6Z" fill="none" stroke="#008a18" stroke-width="4.2" stroke-linejoin="miter"/>
<path d="M2179.0 690.0L2197.2 658.5L2160.8 658.5Z" fill="none" stroke="#008a18" stroke-width="4.2" stroke-linejoin="miter"/>
<path d="M2206.0 668.1L2224.2 636.6L2187.8 636.6Z" fill="none" stroke="#008a18" stroke-width="4.2" stroke-linejoin="miter"/>
<path d="M2229.0 648.4L2247.2 616.9L2210.8 616.9Z" fill="none" stroke="#008a18" stroke-width="4.2" stroke-linejoin="miter"/>
<path d="M2255.0 609.5L2273.2 578.0L2236.8 578.0Z" fill="none" stroke="#008a18" stroke-width="4.2" stroke-linejoin="miter"/>
<path d="M2272.0 589.0L2290.2 557.5L2253.8 557.5Z" fill="none" stroke="#008a18" stroke-width="4.2" stroke-linejoin="miter"/>
<path d="M488.0 768.4 L495.5 768.4 L503.0 768.4 L510.4 768.4 L517.9 768.4 L525.4 768.4 L532.9 768.4 L540.3 768.4 L547.8 768.4 L555.3 768.4 L562.8 768.4 L570.2 768.4 L577.7 768.4 L585.2 768.4 L592.7 768.4 L600.2 768.4 L607.6 768.4 L615.1 768.4 L622.6 768.4 L630.1 768.4 L637.5 768.4 L645.0 768.4 L652.5 768.4 L660.0 768.4 L667.4 768.4 L674.9 768.4 L682.4 768.4 L689.9 768.4 L697.4 768.4 L704.8 768.4 L712.3 768.4 L719.8 768.4 L727.3 768.4 L734.7 768.4 L742.2 768.4 L749.7 768.4 L757.2 768.4 L764.6 768.4 L772.1 768.4 L779.6 768.4 L787.1 768.4 L794.6 768.4 L802.0 768.4 L809.5 768.4 L817.0 768.4 L824.5 768.4 L831.9 768.4 L839.4 768.4 L846.9 768.4 L854.4 768.4 L861.8 768.4 L869.3 768.4 L876.8 768.4 L884.3 768.4 L891.8 768.4 L899.2 768.4 L906.7 768.4 L914.2 768.4 L921.7 768.4 L929.1 768.4 L936.6 768.4 L944.1 768.4 L951.6 768.4 L959.1 768.4 L966.5 768.4 L974.0 768.4 L981.5 768.4 L989.0 768.4 L996.4 768.4 L1003.9 768.4 L1011.4 768.4 L1018.9 768.4 L1026.3 768.4 L1033.8 768.4 L1041.3 768.3 L1048.8 768.3 L1056.3 768.3 L1063.7 768.3 L1071.2 768.3 L1078.7 768.3 L1086.2 768.3 L1093.6 768.3 L1101.1 768.3 L1108.6 768.3 L1116.1 768.3 L1123.5 768.3 L1131.0 768.3 L1138.5 768.3 L1146.0 768.3 L1153.5 768.3 L1160.9 768.2 L1168.4 768.2 L1175.9 768.2 L1183.4 768.2 L1190.8 768.2 L1198.3 768.2 L1205.8 768.2 L1213.3 768.2 L1220.7 768.2 L1228.2 768.1 L1235.7 768.1 L1243.2 768.1 L1250.7 768.1 L1258.1 768.1 L1265.6 768.0 L1273.1 768.0 L1280.6 768.0 L1288.0 768.0 L1295.5 767.9 L1303.0 767.9 L1310.5 767.9 L1317.9 767.9 L1325.4 767.8 L1332.9 767.8 L1340.4 767.8 L1347.9 767.7 L1355.3 767.7 L1362.8 767.6 L1370.3 767.6 L1377.8 767.5 L1385.2 767.5 L1392.7 767.4 L1400.2 767.4 L1407.7 767.3 L1415.1 767.3 L1422.6 767.2 L1430.1 767.1 L1437.6 767.0 L1445.1 767.0 L1452.5 766.9 L1460.0 766.8 L1467.5 766.7 L1475.0 766.6 L1482.4 766.5 L1489.9 766.4 L1497.4 766.2 L1504.9 766.1 L1512.3 766.0 L1519.8 765.8 L1527.3 765.7 L1534.8 765.5 L1542.3 765.4 L1549.7 765.2 L1557.2 765.0 L1564.7 764.8 L1572.2 764.6 L1579.6 764.3 L1587.1 764.1 L1594.6 763.9 L1602.1 763.6 L1609.5 763.3 L1617.0 763.0 L1624.5 762.7 L1632.0 762.4 L1639.5 762.0 L1646.9 761.7 L1654.4 761.3 L1661.9 760.9 L1669.4 760.4 L1676.8 760.0 L1684.3 759.5 L1691.8 759.0 L1699.3 758.4 L1706.7 757.9 L1714.2 757.2 L1721.7 756.6 L1729.2 755.9 L1736.7 755.2 L1744.1 754.5 L1751.6 753.7 L1759.1 752.9 L1766.6 752.0 L1774.0 751.1 L1781.5 750.1 L1789.0 749.1 L1796.5 748.0 L1803.9 746.9 L1811.4 745.7 L1818.9 744.4 L1826.4 743.1 L1833.9 741.7 L1841.3 740.3 L1848.8 738.7 L1856.3 737.1 L1863.8 735.5 L1871.2 733.7 L1878.7 731.8 L1886.2 729.9 L1893.7 727.9 L1901.2 725.8 L1908.6 723.5 L1916.1 721.2 L1923.6 718.8 L1931.1 716.2 L1938.5 713.6 L1946.0 710.8 L1953.5 708.0 L1961.0 705.0 L1968.4 701.9 L1975.9 698.6 L1983.4 695.2 L1990.9 691.7 L1998.4 688.1 L2005.8 684.3 L2013.3 680.4 L2020.8 676.4 L2028.3 672.2 L2035.7 667.9 L2043.2 663.4 L2050.7 658.8 L2058.2 654.1 L2065.6 649.1 L2073.1 644.1 L2080.6 638.9 L2088.1 633.6 L2095.6 628.1 L2103.0 622.5 L2110.5 616.7 L2118.0 610.8 L2125.5 604.7 L2132.9 598.5 L2140.4 592.2 L2147.9 585.7 L2155.4 579.1 L2162.8 572.4 L2170.3 565.5 L2177.8 558.5 L2185.3 551.4 L2192.8 544.1 L2200.2 536.8 L2207.7 529.3 L2215.2 521.7 L2222.7 514.0 L2230.1 506.2 L2237.6 498.3 L2245.1 490.3 L2252.6 482.2 L2260.0 474.0 L2267.5 465.7 L2275.0 457.4" fill="none" stroke="#b43cff" stroke-width="4.4" stroke-linejoin="round"/>
<path d="M494.0 745.5L514.0 765.5L494.0 785.5L474.0 765.5Z" fill="none" stroke="#a53cf0" stroke-width="4.2" stroke-linejoin="miter"/>
<path d="M525.3 745.5L545.3 765.5L525.3 785.5L505.3 765.5Z" fill="none" stroke="#a53cf0" stroke-width="4.2" stroke-linejoin="miter"/>
<path d="M555.8 745.4L575.8 765.4L555.8 785.4L535.8 765.4Z" fill="none" stroke="#a53cf0" stroke-width="4.2" stroke-linejoin="miter"/>
<path d="M586.6 745.4L606.6 765.4L586.6 785.4L566.6 765.4Z" fill="none" stroke="#a53cf0" stroke-width="4.2" stroke-linejoin="miter"/>
<path d="M608.5 745.4L628.5 765.4L608.5 785.4L588.5 765.4Z" fill="none" stroke="#a53cf0" stroke-width="4.2" stroke-linejoin="miter"/>
<path d="M630.0 745.4L650.0 765.4L630.0 785.4L610.0 765.4Z" fill="none" stroke="#a53cf0" stroke-width="4.2" stroke-linejoin="miter"/>
<path d="M651.3 745.3L671.3 765.3L651.3 785.3L631.3 765.3Z" fill="none" stroke="#a53cf0" stroke-width="4.2" stroke-linejoin="miter"/>
<path d="M677.2 745.3L697.2 765.3L677.2 785.3L657.2 765.3Z" fill="none" stroke="#a53cf0" stroke-width="4.2" stroke-linejoin="miter"/>
<path d="M707.4 745.3L727.4 765.3L707.4 785.3L687.4 765.3Z" fill="none" stroke="#a53cf0" stroke-width="4.2" stroke-linejoin="miter"/>
<path d="M731.2 745.3L751.2 765.3L731.2 785.3L711.2 765.3Z" fill="none" stroke="#a53cf0" stroke-width="4.2" stroke-linejoin="miter"/>
<path d="M760.8 745.2L780.8 765.2L760.8 785.2L740.8 765.2Z" fill="none" stroke="#a53cf0" stroke-width="4.2" stroke-linejoin="miter"/>
<path d="M786.2 745.2L806.2 765.2L786.2 785.2L766.2 765.2Z" fill="none" stroke="#a53cf0" stroke-width="4.2" stroke-linejoin="miter"/>
<path d="M809.6 745.2L829.6 765.2L809.6 785.2L789.6 765.2Z" fill="none" stroke="#a53cf0" stroke-width="4.2" stroke-linejoin="miter"/>
<path d="M836.2 745.2L856.2 765.2L836.2 785.2L816.2 765.2Z" fill="none" stroke="#a53cf0" stroke-width="4.2" stroke-linejoin="miter"/>
<path d="M861.7 745.1L881.7 765.1L861.7 785.1L841.7 765.1Z" fill="none" stroke="#a53cf0" stroke-width="4.2" stroke-linejoin="miter"/>
<path d="M885.6 745.1L905.6 765.1L885.6 785.1L865.6 765.1Z" fill="none" stroke="#a53cf0" stroke-width="4.2" stroke-linejoin="miter"/>
<path d="M910.8 745.1L930.8 765.1L910.8 785.1L890.8 765.1Z" fill="none" stroke="#a53cf0" stroke-width="4.2" stroke-linejoin="miter"/>
<path d="M940.9 745.1L960.9 765.1L940.9 785.1L920.9 765.1Z" fill="none" stroke="#a53cf0" stroke-width="4.2" stroke-linejoin="miter"/>
<path d="M970.9 745.0L990.9 765.0L970.9 785.0L950.9 765.0Z" fill="none" stroke="#a53cf0" stroke-width="4.2" stroke-linejoin="miter"/>
<path d="M998.1 745.0L1018.1 765.0L998.1 785.0L978.1 765.0Z" fill="none" stroke="#a53cf0" stroke-width="4.2" stroke-linejoin="miter"/>
<path d="M1027.7 751.0L1047.7 771.0L1027.7 791.0L1007.7 771.0Z" fill="none" stroke="#a53cf0" stroke-width="4.2" stroke-linejoin="miter"/>
<path d="M1056.1 745.0L1076.1 765.0L1056.1 785.0L1036.1 765.0Z" fill="none" stroke="#a53cf0" stroke-width="4.2" stroke-linejoin="miter"/>
<path d="M1083.3 745.0L1103.3 765.0L1083.3 785.0L1063.3 765.0Z" fill="none" stroke="#a53cf0" stroke-width="4.2" stroke-linejoin="miter"/>
<path d="M1111.7 745.0L1131.7 765.0L1111.7 785.0L1091.7 765.0Z" fill="none" stroke="#a53cf0" stroke-width="4.2" stroke-linejoin="miter"/>
<path d="M1138.9 745.0L1158.9 765.0L1138.9 785.0L1118.9 765.0Z" fill="none" stroke="#a53cf0" stroke-width="4.2" stroke-linejoin="miter"/>
<path d="M1167.3 745.0L1187.3 765.0L1167.3 785.0L1147.3 765.0Z" fill="none" stroke="#a53cf0" stroke-width="4.2" stroke-linejoin="miter"/>
<path d="M1194.5 745.0L1214.5 765.0L1194.5 785.0L1174.5 765.0Z" fill="none" stroke="#a53cf0" stroke-width="4.2" stroke-linejoin="miter"/>
<path d="M1219.3 745.0L1239.3 765.0L1219.3 785.0L1199.3 765.0Z" fill="none" stroke="#a53cf0" stroke-width="4.2" stroke-linejoin="miter"/>
<path d="M1247.7 745.0L1267.7 765.0L1247.7 785.0L1227.7 765.0Z" fill="none" stroke="#a53cf0" stroke-width="4.2" stroke-linejoin="miter"/>
<path d="M1275.0 745.0L1295.0 765.0L1275.0 785.0L1255.0 765.0Z" fill="none" stroke="#a53cf0" stroke-width="4.2" stroke-linejoin="miter"/>
<path d="M1301.0 745.0L1321.0 765.0L1301.0 785.0L1281.0 765.0Z" fill="none" stroke="#a53cf0" stroke-width="4.2" stroke-linejoin="miter"/>
<path d="M1327.0 749.0L1347.0 769.0L1327.0 789.0L1307.0 769.0Z" fill="none" stroke="#a53cf0" stroke-width="4.2" stroke-linejoin="miter"/>
<path d="M1351.8 751.0L1371.8 771.0L1351.8 791.0L1331.8 771.0Z" fill="none" stroke="#a53cf0" stroke-width="4.2" stroke-linejoin="miter"/>
<path d="M1379.0 745.0L1399.0 765.0L1379.0 785.0L1359.0 765.0Z" fill="none" stroke="#a53cf0" stroke-width="4.2" stroke-linejoin="miter"/>
<path d="M1406.8 745.1L1426.8 765.1L1406.8 785.1L1386.8 765.1Z" fill="none" stroke="#a53cf0" stroke-width="4.2" stroke-linejoin="miter"/>
<path d="M1434.9 745.1L1454.9 765.1L1434.9 785.1L1414.9 765.1Z" fill="none" stroke="#a53cf0" stroke-width="4.2" stroke-linejoin="miter"/>
<path d="M1462.8 745.2L1482.8 765.2L1462.8 785.2L1442.8 765.2Z" fill="none" stroke="#a53cf0" stroke-width="4.2" stroke-linejoin="miter"/>
<path d="M1490.5 745.3L1510.5 765.3L1490.5 785.3L1470.5 765.3Z" fill="none" stroke="#a53cf0" stroke-width="4.2" stroke-linejoin="miter"/>
<path d="M1519.6 745.4L1539.6 765.4L1519.6 785.4L1499.6 765.4Z" fill="none" stroke="#a53cf0" stroke-width="4.2" stroke-linejoin="miter"/>
<path d="M1546.8 745.4L1566.8 765.4L1546.8 785.4L1526.8 765.4Z" fill="none" stroke="#a53cf0" stroke-width="4.2" stroke-linejoin="miter"/>
<path d="M1572.7 745.5L1592.7 765.5L1572.7 785.5L1552.7 765.5Z" fill="none" stroke="#a53cf0" stroke-width="4.2" stroke-linejoin="miter"/>
<path d="M1596.3 749.6L1616.3 769.6L1596.3 789.6L1576.3 769.6Z" fill="none" stroke="#a53cf0" stroke-width="4.2" stroke-linejoin="miter"/>
<path d="M1623.6 747.9L1643.6 767.9L1623.6 787.9L1603.6 767.9Z" fill="none" stroke="#a53cf0" stroke-width="4.2" stroke-linejoin="miter"/>
<path d="M1654.7 745.5L1674.7 765.5L1654.7 785.5L1634.7 765.5Z" fill="none" stroke="#a53cf0" stroke-width="4.2" stroke-linejoin="miter"/>
<path d="M1692.4 743.2L1712.4 763.2L1692.4 783.2L1672.4 763.2Z" fill="none" stroke="#a53cf0" stroke-width="4.2" stroke-linejoin="miter"/>
<path d="M1718.6 740.7L1738.6 760.7L1718.6 780.7L1698.6 760.7Z" fill="none" stroke="#a53cf0" stroke-width="4.2" stroke-linejoin="miter"/>
<path d="M1738.2 736.1L1758.2 756.1L1738.2 776.1L1718.2 756.1Z" fill="none" stroke="#a53cf0" stroke-width="4.2" stroke-linejoin="miter"/>
<path d="M1768.0 735.4L1788.0 755.4L1768.0 775.4L1748.0 755.4Z" fill="none" stroke="#a53cf0" stroke-width="4.2" stroke-linejoin="miter"/>
<path d="M1793.5 734.5L1813.5 754.5L1793.5 774.5L1773.5 754.5Z" fill="none" stroke="#a53cf0" stroke-width="4.2" stroke-linejoin="miter"/>
<path d="M1820.5 723.2L1840.5 743.2L1820.5 763.2L1800.5 743.2Z" fill="none" stroke="#a53cf0" stroke-width="4.2" stroke-linejoin="miter"/>
<path d="M1851.2 720.7L1871.2 740.7L1851.2 760.7L1831.2 740.7Z" fill="none" stroke="#a53cf0" stroke-width="4.2" stroke-linejoin="miter"/>
<path d="M1873.5 713.5L1893.5 733.5L1873.5 753.5L1853.5 733.5Z" fill="none" stroke="#a53cf0" stroke-width="4.2" stroke-linejoin="miter"/>
<path d="M1898.8 707.7L1918.8 727.7L1898.8 747.7L1878.8 727.7Z" fill="none" stroke="#a53cf0" stroke-width="4.2" stroke-linejoin="miter"/>
<path d="M1927.2 700.3L1947.2 720.3L1927.2 740.3L1907.2 720.3Z" fill="none" stroke="#a53cf0" stroke-width="4.2" stroke-linejoin="miter"/>
<path d="M1960.5 691.1L1980.5 711.1L1960.5 731.1L1940.5 711.1Z" fill="none" stroke="#a53cf0" stroke-width="4.2" stroke-linejoin="miter"/>
<path d="M1989.2 676.8L2009.2 696.8L1989.2 716.8L1969.2 696.8Z" fill="none" stroke="#a53cf0" stroke-width="4.2" stroke-linejoin="miter"/>
<path d="M2022.0 665.5L2042.0 685.5L2022.0 705.5L2002.0 685.5Z" fill="none" stroke="#a53cf0" stroke-width="4.2" stroke-linejoin="miter"/>
<path d="M2048.0 640.2L2068.0 660.2L2048.0 680.2L2028.0 660.2Z" fill="none" stroke="#a53cf0" stroke-width="4.2" stroke-linejoin="miter"/>
<path d="M2076.5 619.7L2096.5 639.7L2076.5 659.7L2056.5 639.7Z" fill="none" stroke="#a53cf0" stroke-width="4.2" stroke-linejoin="miter"/>
<path d="M2095.3 606.8L2115.3 626.8L2095.3 646.8L2075.3 626.8Z" fill="none" stroke="#a53cf0" stroke-width="4.2" stroke-linejoin="miter"/>
<path d="M2124.3 582.7L2144.3 602.7L2124.3 622.7L2104.3 602.7Z" fill="none" stroke="#a53cf0" stroke-width="4.2" stroke-linejoin="miter"/>
<path d="M2152.2 557.8L2172.2 577.8L2152.2 597.8L2132.2 577.8Z" fill="none" stroke="#a53cf0" stroke-width="4.2" stroke-linejoin="miter"/>
<path d="M2179.0 533.0L2199.0 553.0L2179.0 573.0L2159.0 553.0Z" fill="none" stroke="#a53cf0" stroke-width="4.2" stroke-linejoin="miter"/>
<path d="M2206.0 510.0L2226.0 530.0L2206.0 550.0L2186.0 530.0Z" fill="none" stroke="#a53cf0" stroke-width="4.2" stroke-linejoin="miter"/>
<path d="M2229.0 485.0L2249.0 505.0L2229.0 525.0L2209.0 505.0Z" fill="none" stroke="#a53cf0" stroke-width="4.2" stroke-linejoin="miter"/>
<path d="M2255.0 458.0L2275.0 478.0L2255.0 498.0L2235.0 478.0Z" fill="none" stroke="#a53cf0" stroke-width="4.2" stroke-linejoin="miter"/>
<path d="M2272.0 436.3L2292.0 456.3L2272.0 476.3L2252.0 456.3Z" fill="none" stroke="#a53cf0" stroke-width="4.2" stroke-linejoin="miter"/>
<path d="M488.0 586.0 L495.3 586.0 L502.6 586.0 L510.0 586.0 L517.3 586.0 L524.6 586.0 L531.9 586.0 L539.2 586.0 L546.5 586.0 L553.9 586.0 L561.2 586.0 L568.5 586.0 L575.8 586.0 L583.1 586.0 L590.5 586.0 L597.8 586.0 L605.1 586.0 L612.4 586.0 L619.7 586.0 L627.0 586.0 L634.4 586.0 L641.7 586.0 L649.0 586.0 L656.3 586.0 L663.6 586.0 L670.9 586.0 L678.3 586.0 L685.6 586.0 L692.9 586.0 L700.2 586.0 L707.5 586.0 L714.9 586.0 L722.2 586.0 L729.5 586.0 L736.8 586.0 L744.1 586.0 L751.4 586.0 L758.8 586.0 L766.1 586.0 L773.4 586.0 L780.7 586.0 L788.0 586.0 L795.4 586.0 L802.7 586.0 L810.0 586.0 L817.3 586.0 L824.6 586.0 L831.9 586.0 L839.3 586.0 L846.6 586.0 L853.9 586.0 L861.2 586.0 L868.5 586.0 L875.9 586.0 L883.2 586.0 L890.5 586.0 L897.8 586.0 L905.1 586.0 L912.4 586.0 L919.8 586.0 L927.1 586.0 L934.4 586.0 L941.7 586.0 L949.0 586.0 L956.4 586.0 L963.7 586.0 L971.0 586.0 L978.3 586.0 L985.6 586.0 L992.9 586.0 L1000.3 586.0 L1007.6 586.0 L1014.9 586.0 L1022.2 586.0 L1029.5 586.0 L1036.8 586.0 L1044.2 586.0 L1051.5 586.0 L1058.8 586.0 L1066.1 586.0 L1073.4 586.0 L1080.8 586.0 L1088.1 586.0 L1095.4 586.0 L1102.7 586.0 L1110.0 586.0 L1117.3 586.0 L1124.7 586.0 L1132.0 586.0 L1139.3 586.0 L1146.6 586.0 L1153.9 586.0 L1161.3 585.9 L1168.6 585.9 L1175.9 585.9 L1183.2 585.9 L1190.5 585.9 L1197.8 585.9 L1205.2 585.9 L1212.5 585.9 L1219.8 585.9 L1227.1 585.9 L1234.4 585.9 L1241.8 585.9 L1249.1 585.9 L1256.4 585.9 L1263.7 585.9 L1271.0 585.9 L1278.3 585.9 L1285.7 585.9 L1293.0 585.9 L1300.3 585.9 L1307.6 585.9 L1314.9 585.9 L1322.3 585.9 L1329.6 585.8 L1336.9 585.8 L1344.2 585.8 L1351.5 585.8 L1358.8 585.8 L1366.2 585.8 L1373.5 585.8 L1380.8 585.8 L1388.1 585.7 L1395.4 585.7 L1402.7 585.7 L1410.1 585.7 L1417.4 585.7 L1424.7 585.7 L1432.0 585.6 L1439.3 585.6 L1446.7 585.6 L1454.0 585.6 L1461.3 585.5 L1468.6 585.5 L1475.9 585.5 L1483.2 585.4 L1490.6 585.4 L1497.9 585.4 L1505.2 585.3 L1512.5 585.3 L1519.8 585.2 L1527.2 585.2 L1534.5 585.1 L1541.8 585.1 L1549.1 585.0 L1556.4 584.9 L1563.7 584.9 L1571.1 584.8 L1578.4 584.7 L1585.7 584.6 L1593.0 584.5 L1600.3 584.4 L1607.7 584.3 L1615.0 584.2 L1622.3 584.1 L1629.6 584.0 L1636.9 583.9 L1644.2 583.7 L1651.6 583.6 L1658.9 583.4 L1666.2 583.2 L1673.5 583.0 L1680.8 582.9 L1688.2 582.6 L1695.5 582.4 L1702.8 582.2 L1710.1 581.9 L1717.4 581.7 L1724.7 581.4 L1732.1 581.1 L1739.4 580.7 L1746.7 580.4 L1754.0 580.0 L1761.3 579.6 L1768.6 579.2 L1776.0 578.8 L1783.3 578.3 L1790.6 577.8 L1797.9 577.2 L1805.2 576.7 L1812.6 576.0 L1819.9 575.4 L1827.2 574.7 L1834.5 574.0 L1841.8 573.2 L1849.1 572.3 L1856.5 571.5 L1863.8 570.5 L1871.1 569.5 L1878.4 568.5 L1885.7 567.4 L1893.1 566.2 L1900.4 564.9 L1907.7 563.6 L1915.0 562.2 L1922.3 560.7 L1929.6 559.1 L1937.0 557.4 L1944.3 555.6 L1951.6 553.7 L1958.9 551.8 L1966.2 549.7 L1973.6 547.5 L1980.9 545.2 L1988.2 542.7 L1995.5 540.1 L2002.8 537.4 L2010.1 534.6 L2017.5 531.6 L2024.8 528.5 L2032.1 525.2 L2039.4 521.7 L2046.7 518.1 L2054.1 514.4 L2061.4 510.4 L2068.7 506.3 L2076.0 502.1 L2083.3 497.6 L2090.6 493.0 L2098.0 488.1 L2105.3 483.1 L2112.6 477.9 L2119.9 472.6 L2127.2 467.0 L2134.5 461.2 L2141.9 455.3 L2149.2 449.1 L2156.5 442.8 L2163.8 436.3 L2171.1 429.6 L2178.5 422.7 L2185.8 415.6 L2193.1 408.4 L2200.4 401.0 L2207.7 393.4 L2215.0 385.6 L2222.4 377.7 L2229.7 369.6 L2237.0 361.3" fill="none" stroke="#aaa000" stroke-width="5.5" stroke-linejoin="round"/>
<path d="M473.0 585.0L504.5 566.8L504.5 603.2Z" fill="none" stroke="#d8a010" stroke-width="4.2" stroke-linejoin="miter"/>
<path d="M504.3 585.1L535.8 566.9L535.8 603.2Z" fill="none" stroke="#d8a010" stroke-width="4.2" stroke-linejoin="miter"/>
<path d="M534.8 585.1L566.3 566.9L566.3 603.3Z" fill="none" stroke="#d8a010" stroke-width="4.2" stroke-linejoin="miter"/>
<path d="M565.6 585.2L597.1 567.0L597.1 603.4Z" fill="none" stroke="#d8a010" stroke-width="4.2" stroke-linejoin="miter"/>
<path d="M587.5 585.2L619.0 567.0L619.0 603.4Z" fill="none" stroke="#d8a010" stroke-width="4.2" stroke-linejoin="miter"/>
<path d="M609.0 585.3L640.5 567.1L640.5 603.5Z" fill="none" stroke="#d8a010" stroke-width="4.2" stroke-linejoin="miter"/>
<path d="M630.3 585.3L661.8 567.1L661.8 603.5Z" fill="none" stroke="#d8a010" stroke-width="4.2" stroke-linejoin="miter"/>
<path d="M656.2 585.4L687.7 567.2L687.7 603.5Z" fill="none" stroke="#d8a010" stroke-width="4.2" stroke-linejoin="miter"/>
<path d="M686.4 585.4L717.9 567.2L717.9 603.6Z" fill="none" stroke="#d8a010" stroke-width="4.2" stroke-linejoin="miter"/>
<path d="M710.2 585.5L741.7 567.3L741.7 603.7Z" fill="none" stroke="#d8a010" stroke-width="4.2" stroke-linejoin="miter"/>
<path d="M739.8 585.5L771.3 567.3L771.3 603.7Z" fill="none" stroke="#d8a010" stroke-width="4.2" stroke-linejoin="miter"/>
<path d="M765.2 585.6L796.7 567.4L796.7 603.8Z" fill="none" stroke="#d8a010" stroke-width="4.2" stroke-linejoin="miter"/>
<path d="M788.6 585.6L820.1 567.4L820.1 603.8Z" fill="none" stroke="#d8a010" stroke-width="4.2" stroke-linejoin="miter"/>
<path d="M815.2 585.7L846.7 567.5L846.7 603.9Z" fill="none" stroke="#d8a010" stroke-width="4.2" stroke-linejoin="miter"/>
<path d="M840.7 585.7L872.2 567.5L872.2 603.9Z" fill="none" stroke="#d8a010" stroke-width="4.2" stroke-linejoin="miter"/>
<path d="M864.6 585.8L896.1 567.6L896.1 604.0Z" fill="none" stroke="#d8a010" stroke-width="4.2" stroke-linejoin="miter"/>
<path d="M889.8 585.8L921.3 567.6L921.3 604.0Z" fill="none" stroke="#d8a010" stroke-width="4.2" stroke-linejoin="miter"/>
<path d="M919.9 585.9L951.4 567.7L951.4 604.1Z" fill="none" stroke="#d8a010" stroke-width="4.2" stroke-linejoin="miter"/>
<path d="M949.9 585.9L981.4 567.8L981.4 604.1Z" fill="none" stroke="#d8a010" stroke-width="4.2" stroke-linejoin="miter"/>
<path d="M977.1 586.0L1008.6 567.8L1008.6 604.2Z" fill="none" stroke="#d8a010" stroke-width="4.2" stroke-linejoin="miter"/>
<path d="M1006.7 586.0L1038.2 567.8L1038.2 604.1Z" fill="none" stroke="#d8a010" stroke-width="4.2" stroke-linejoin="miter"/>
<path d="M1035.1 585.9L1066.6 567.7L1066.6 604.1Z" fill="none" stroke="#d8a010" stroke-width="4.2" stroke-linejoin="miter"/>
<path d="M1062.3 585.9L1093.8 567.7L1093.8 604.0Z" fill="none" stroke="#d8a010" stroke-width="4.2" stroke-linejoin="miter"/>
<path d="M1090.7 585.8L1122.2 567.6L1122.2 604.0Z" fill="none" stroke="#d8a010" stroke-width="4.2" stroke-linejoin="miter"/>
<path d="M1117.9 585.8L1149.4 567.6L1149.4 603.9Z" fill="none" stroke="#d8a010" stroke-width="4.2" stroke-linejoin="miter"/>
<path d="M1146.3 585.7L1177.8 567.5L1177.8 603.9Z" fill="none" stroke="#d8a010" stroke-width="4.2" stroke-linejoin="miter"/>
<path d="M1173.5 585.7L1205.0 567.5L1205.0 603.8Z" fill="none" stroke="#d8a010" stroke-width="4.2" stroke-linejoin="miter"/>
<path d="M1198.3 585.6L1229.8 567.4L1229.8 603.8Z" fill="none" stroke="#d8a010" stroke-width="4.2" stroke-linejoin="miter"/>
<path d="M1226.7 585.6L1258.2 567.4L1258.2 603.8Z" fill="none" stroke="#d8a010" stroke-width="4.2" stroke-linejoin="miter"/>
<path d="M1254.0 585.5L1285.5 567.3L1285.5 603.7Z" fill="none" stroke="#d8a010" stroke-width="4.2" stroke-linejoin="miter"/>
<path d="M1280.0 585.5L1311.5 567.3L1311.5 603.7Z" fill="none" stroke="#d8a010" stroke-width="4.2" stroke-linejoin="miter"/>
<path d="M1306.0 585.4L1337.5 567.2L1337.5 603.6Z" fill="none" stroke="#d8a010" stroke-width="4.2" stroke-linejoin="miter"/>
<path d="M1330.8 585.4L1362.3 567.2L1362.3 603.6Z" fill="none" stroke="#d8a010" stroke-width="4.2" stroke-linejoin="miter"/>
<path d="M1358.0 585.3L1389.5 567.1L1389.5 603.5Z" fill="none" stroke="#d8a010" stroke-width="4.2" stroke-linejoin="miter"/>
<path d="M1385.8 585.3L1417.3 567.1L1417.3 603.5Z" fill="none" stroke="#d8a010" stroke-width="4.2" stroke-linejoin="miter"/>
<path d="M1413.9 585.2L1445.4 567.1L1445.4 603.4Z" fill="none" stroke="#d8a010" stroke-width="4.2" stroke-linejoin="miter"/>
<path d="M1441.8 585.2L1473.3 567.0L1473.3 603.4Z" fill="none" stroke="#d8a010" stroke-width="4.2" stroke-linejoin="miter"/>
<path d="M1469.5 585.1L1501.0 567.0L1501.0 603.3Z" fill="none" stroke="#d8a010" stroke-width="4.2" stroke-linejoin="miter"/>
<path d="M1498.6 585.1L1530.1 566.9L1530.1 603.3Z" fill="none" stroke="#d8a010" stroke-width="4.2" stroke-linejoin="miter"/>
<path d="M1525.8 585.0L1557.3 566.9L1557.3 603.2Z" fill="none" stroke="#d8a010" stroke-width="4.2" stroke-linejoin="miter"/>
<path d="M1551.7 585.0L1583.2 566.8L1583.2 603.2Z" fill="none" stroke="#d8a010" stroke-width="4.2" stroke-linejoin="miter"/>
<path d="M1575.3 584.7L1606.8 566.5L1606.8 602.9Z" fill="none" stroke="#d8a010" stroke-width="4.2" stroke-linejoin="miter"/>
<path d="M1602.6 584.4L1634.1 566.2L1634.1 602.6Z" fill="none" stroke="#d8a010" stroke-width="4.2" stroke-linejoin="miter"/>
<path d="M1633.7 584.1L1665.2 565.9L1665.2 602.3Z" fill="none" stroke="#d8a010" stroke-width="4.2" stroke-linejoin="miter"/>
<path d="M1671.4 583.7L1702.9 565.5L1702.9 601.9Z" fill="none" stroke="#d8a010" stroke-width="4.2" stroke-linejoin="miter"/>
<path d="M1697.6 582.9L1729.1 564.7L1729.1 601.1Z" fill="none" stroke="#d8a010" stroke-width="4.2" stroke-linejoin="miter"/>
<path d="M1717.2 582.0L1748.7 563.8L1748.7 600.1Z" fill="none" stroke="#d8a010" stroke-width="4.2" stroke-linejoin="miter"/>
<path d="M1747.0 580.6L1778.5 562.4L1778.5 598.7Z" fill="none" stroke="#d8a010" stroke-width="4.2" stroke-linejoin="miter"/>
<path d="M1772.5 577.5L1804.0 559.3L1804.0 595.7Z" fill="none" stroke="#d8a010" stroke-width="4.2" stroke-linejoin="miter"/>
<path d="M1799.5 573.9L1831.0 555.8L1831.0 592.1Z" fill="none" stroke="#d8a010" stroke-width="4.2" stroke-linejoin="miter"/>
<path d="M1830.2 571.9L1861.7 553.7L1861.7 590.1Z" fill="none" stroke="#d8a010" stroke-width="4.2" stroke-linejoin="miter"/>
<path d="M1852.5 570.4L1884.0 552.3L1884.0 588.6Z" fill="none" stroke="#d8a010" stroke-width="4.2" stroke-linejoin="miter"/>
<path d="M1877.8 566.1L1909.3 547.9L1909.3 584.3Z" fill="none" stroke="#d8a010" stroke-width="4.2" stroke-linejoin="miter"/>
<path d="M1906.2 562.3L1937.7 544.1L1937.7 580.5Z" fill="none" stroke="#d8a010" stroke-width="4.2" stroke-linejoin="miter"/>
<path d="M1939.5 558.7L1971.0 540.5L1971.0 576.9Z" fill="none" stroke="#d8a010" stroke-width="4.2" stroke-linejoin="miter"/>
<path d="M1968.2 547.9L1999.7 529.7L1999.7 566.1Z" fill="none" stroke="#d8a010" stroke-width="4.2" stroke-linejoin="miter"/>
<path d="M2001.0 535.3L2032.5 517.1L2032.5 553.5Z" fill="none" stroke="#d8a010" stroke-width="4.2" stroke-linejoin="miter"/>
<path d="M2027.0 521.0L2058.5 502.9L2058.5 539.2Z" fill="none" stroke="#d8a010" stroke-width="4.2" stroke-linejoin="miter"/>
<path d="M2055.5 504.0L2087.0 485.8L2087.0 522.1Z" fill="none" stroke="#d8a010" stroke-width="4.2" stroke-linejoin="miter"/>
<path d="M2074.3 491.9L2105.8 473.7L2105.8 510.1Z" fill="none" stroke="#d8a010" stroke-width="4.2" stroke-linejoin="miter"/>
<path d="M2103.3 478.7L2134.8 460.5L2134.8 496.9Z" fill="none" stroke="#d8a010" stroke-width="4.2" stroke-linejoin="miter"/>
<path d="M2131.2 460.5L2162.7 442.3L2162.7 478.7Z" fill="none" stroke="#d8a010" stroke-width="4.2" stroke-linejoin="miter"/>
<path d="M2158.0 435.5L2189.5 417.3L2189.5 453.7Z" fill="none" stroke="#d8a010" stroke-width="4.2" stroke-linejoin="miter"/>
<path d="M2185.0 408.0L2216.5 389.8L2216.5 426.2Z" fill="none" stroke="#d8a010" stroke-width="4.2" stroke-linejoin="miter"/>
<path d="M2208.0 372.5L2239.5 354.3L2239.5 390.7Z" fill="none" stroke="#d8a010" stroke-width="4.2" stroke-linejoin="miter"/>
<path d="M2234.0 329.3L2265.5 311.1L2265.5 347.5Z" fill="none" stroke="#d8a010" stroke-width="4.2" stroke-linejoin="miter"/>
<path d="M2251.0 312.0L2282.5 293.8L2282.5 330.2Z" fill="none" stroke="#d8a010" stroke-width="4.2" stroke-linejoin="miter"/>
</g>
<g stroke="#000" fill="none">
<line x1="386" y1="56.5" x2="386" y2="1577" stroke-width="4.4"/>
<line x1="384" y1="1575" x2="2272" y2="1575" stroke-width="4.4"/>
<line x1="356" y1="1575.1" x2="386" y2="1575.1" stroke-width="6.0"/>
<line x1="370" y1="1451.8" x2="386" y2="1451.8" stroke-width="6.0"/>
<line x1="370" y1="1379.6" x2="386" y2="1379.6" stroke-width="6.0"/>
<line x1="370" y1="1328.4" x2="386" y2="1328.4" stroke-width="6.0"/>
<line x1="370" y1="1288.7" x2="386" y2="1288.7" stroke-width="6.0"/>
<line x1="370" y1="1256.3" x2="386" y2="1256.3" stroke-width="6.0"/>
<line x1="370" y1="1228.9" x2="386" y2="1228.9" stroke-width="6.0"/>
<line x1="370" y1="1205.1" x2="386" y2="1205.1" stroke-width="6.0"/>
<line x1="370" y1="1184.1" x2="386" y2="1184.1" stroke-width="6.0"/>
<line x1="356" y1="1165.4" x2="386" y2="1165.4" stroke-width="6.0"/>
<line x1="370" y1="1042.1" x2="386" y2="1042.1" stroke-width="6.0"/>
<line x1="370" y1="969.9" x2="386" y2="969.9" stroke-width="6.0"/>
<line x1="370" y1="918.7" x2="386" y2="918.7" stroke-width="6.0"/>
<line x1="370" y1="879.0" x2="386" y2="879.0" stroke-width="6.0"/>
<line x1="370" y1="846.6" x2="386" y2="846.6" stroke-width="6.0"/>
<line x1="370" y1="819.2" x2="386" y2="819.2" stroke-width="6.0"/>
<line x1="370" y1="795.4" x2="386" y2="795.4" stroke-width="6.0"/>
<line x1="370" y1="774.4" x2="386" y2="774.4" stroke-width="6.0"/>
<line x1="356" y1="755.7" x2="386" y2="755.7" stroke-width="6.0"/>
<line x1="370" y1="632.4" x2="386" y2="632.4" stroke-width="6.0"/>
<line x1="370" y1="560.2" x2="386" y2="560.2" stroke-width="6.0"/>
<line x1="370" y1="509.0" x2="386" y2="509.0" stroke-width="6.0"/>
<line x1="370" y1="469.3" x2="386" y2="469.3" stroke-width="6.0"/>
<line x1="370" y1="436.9" x2="386" y2="436.9" stroke-width="6.0"/>
<line x1="370" y1="409.5" x2="386" y2="409.5" stroke-width="6.0"/>
<line x1="370" y1="385.7" x2="386" y2="385.7" stroke-width="6.0"/>
<line x1="370" y1="364.7" x2="386" y2="364.7" stroke-width="6.0"/>
<line x1="356" y1="346.0" x2="386" y2="346.0" stroke-width="6.0"/>
<line x1="370" y1="222.7" x2="386" y2="222.7" stroke-width="6.0"/>
<line x1="370" y1="150.5" x2="386" y2="150.5" stroke-width="6.0"/>
<line x1="370" y1="99.3" x2="386" y2="99.3" stroke-width="6.0"/>
<line x1="370" y1="59.6" x2="386" y2="59.6" stroke-width="6.0"/>
<line x1="386.0" y1="1575" x2="386.0" y2="1604.5" stroke-width="6.0"/>
<line x1="469.7" y1="1575" x2="469.7" y2="1588.5" stroke-width="6.0"/>
<line x1="518.7" y1="1575" x2="518.7" y2="1588.5" stroke-width="6.0"/>
<line x1="553.5" y1="1575" x2="553.5" y2="1588.5" stroke-width="6.0"/>
<line x1="580.5" y1="1575" x2="580.5" y2="1588.5" stroke-width="6.0"/>
<line x1="602.5" y1="1575" x2="602.5" y2="1588.5" stroke-width="6.0"/>
<line x1="621.1" y1="1575" x2="621.1" y2="1588.5" stroke-width="6.0"/>
<line x1="637.2" y1="1575" x2="637.2" y2="1588.5" stroke-width="6.0"/>
<line x1="651.5" y1="1575" x2="651.5" y2="1588.5" stroke-width="6.0"/>
<line x1="664.2" y1="1575" x2="664.2" y2="1604.5" stroke-width="6.0"/>
<line x1="747.9" y1="1575" x2="747.9" y2="1588.5" stroke-width="6.0"/>
<line x1="796.9" y1="1575" x2="796.9" y2="1588.5" stroke-width="6.0"/>
<line x1="831.7" y1="1575" x2="831.7" y2="1588.5" stroke-width="6.0"/>
<line x1="858.7" y1="1575" x2="858.7" y2="1588.5" stroke-width="6.0"/>
<line x1="880.7" y1="1575" x2="880.7" y2="1588.5" stroke-width="6.0"/>
<line x1="899.3" y1="1575" x2="899.3" y2="1588.5" stroke-width="6.0"/>
<line x1="915.4" y1="1575" x2="915.4" y2="1588.5" stroke-width="6.0"/>
<line x1="929.7" y1="1575" x2="929.7" y2="1588.5" stroke-width="6.0"/>
<line x1="942.4" y1="1575" x2="942.4" y2="1604.5" stroke-width="6.0"/>
<line x1="1026.1" y1="1575" x2="1026.1" y2="1588.5" stroke-width="6.0"/>
<line x1="1075.1" y1="1575" x2="1075.1" y2="1588.5" stroke-width="6.0"/>
<line x1="1109.9" y1="1575" x2="1109.9" y2="1588.5" stroke-width="6.0"/>
<line x1="1136.9" y1="1575" x2="1136.9" y2="1588.5" stroke-width="6.0"/>
<line x1="1158.9" y1="1575" x2="1158.9" y2="1588.5" stroke-width="6.0"/>
<line x1="1177.5" y1="1575" x2="1177.5" y2="1588.5" stroke-width="6.0"/>
<line x1="1193.6" y1="1575" x2="1193.6" y2="1588.5" stroke-width="6.0"/>
<line x1="1207.9" y1="1575" x2="1207.9" y2="1588.5" stroke-width="6.0"/>
<line x1="1220.6" y1="1575" x2="1220.6" y2="1604.5" stroke-width="6.0"/>
<line x1="1304.3" y1="1575" x2="1304.3" y2="1588.5" stroke-width="6.0"/>
<line x1="1353.3" y1="1575" x2="1353.3" y2="1588.5" stroke-width="6.0"/>
<line x1="1388.1" y1="1575" x2="1388.1" y2="1588.5" stroke-width="6.0"/>
<line x1="1415.1" y1="1575" x2="1415.1" y2="1588.5" stroke-width="6.0"/>
<line x1="1437.1" y1="1575" x2="1437.1" y2="1588.5" stroke-width="6.0"/>
<line x1="1455.7" y1="1575" x2="1455.7" y2="1588.5" stroke-width="6.0"/>
<line x1="1471.8" y1="1575" x2="1471.8" y2="1588.5" stroke-width="6.0"/>
<line x1="1486.1" y1="1575" x2="1486.1" y2="1588.5" stroke-width="6.0"/>
<line x1="1498.8" y1="1575" x2="1498.8" y2="1604.5" stroke-width="6.0"/>
<line x1="1582.5" y1="1575" x2="1582.5" y2="1588.5" stroke-width="6.0"/>
<line x1="1631.5" y1="1575" x2="1631.5" y2="1588.5" stroke-width="6.0"/>
<line x1="1666.3" y1="1575" x2="1666.3" y2="1588.5" stroke-width="6.0"/>
<line x1="1693.3" y1="1575" x2="1693.3" y2="1588.5" stroke-width="6.0"/>
<line x1="1715.3" y1="1575" x2="1715.3" y2="1588.5" stroke-width="6.0"/>
<line x1="1733.9" y1="1575" x2="1733.9" y2="1588.5" stroke-width="6.0"/>
<line x1="1750.0" y1="1575" x2="1750.0" y2="1588.5" stroke-width="6.0"/>
<line x1="1764.3" y1="1575" x2="1764.3" y2="1588.5" stroke-width="6.0"/>
<line x1="1777.0" y1="1575" x2="1777.0" y2="1604.5" stroke-width="6.0"/>
<line x1="1860.7" y1="1575" x2="1860.7" y2="1588.5" stroke-width="6.0"/>
<line x1="1909.7" y1="1575" x2="1909.7" y2="1588.5" stroke-width="6.0"/>
<line x1="1944.5" y1="1575" x2="1944.5" y2="1588.5" stroke-width="6.0"/>
<line x1="1971.5" y1="1575" x2="1971.5" y2="1588.5" stroke-width="6.0"/>
<line x1="1993.5" y1="1575" x2="1993.5" y2="1588.5" stroke-width="6.0"/>
<line x1="2012.1" y1="1575" x2="2012.1" y2="1588.5" stroke-width="6.0"/>
<line x1="2028.2" y1="1575" x2="2028.2" y2="1588.5" stroke-width="6.0"/>
<line x1="2042.5" y1="1575" x2="2042.5" y2="1588.5" stroke-width="6.0"/>
<line x1="2055.2" y1="1575" x2="2055.2" y2="1604.5" stroke-width="6.0"/>
<line x1="2138.9" y1="1575" x2="2138.9" y2="1588.5" stroke-width="6.0"/>
<line x1="2187.9" y1="1575" x2="2187.9" y2="1588.5" stroke-width="6.0"/>
<line x1="2222.7" y1="1575" x2="2222.7" y2="1588.5" stroke-width="6.0"/>
<line x1="2249.7" y1="1575" x2="2249.7" y2="1588.5" stroke-width="6.0"/>
</g>
<text x="207.5" y="369.5" font-size="81" textLength="84.2" lengthAdjust="spacingAndGlyphs">10</text>
<text x="290" y="337.3" font-size="53"><tspan dy="5.7" fill="#333">−</tspan><tspan dy="-5.7">3</tspan></text>
<text x="207.5" y="779.2" font-size="81" textLength="84.2" lengthAdjust="spacingAndGlyphs">10</text>
<text x="290" y="747.0" font-size="53"><tspan dy="5.7" fill="#333">−</tspan><tspan dy="-5.7">4</tspan></text>
<text x="207.5" y="1188.9" font-size="81" textLength="84.2" lengthAdjust="spacingAndGlyphs">10</text>
<text x="290" y="1156.7" font-size="53"><tspan dy="5.7" fill="#333">−</tspan><tspan dy="-5.7">5</tspan></text>
<text x="207.5" y="1598.6" font-size="81" textLength="84.2" lengthAdjust="spacingAndGlyphs">10</text>
<text x="290" y="1566.4" font-size="53"><tspan dy="5.7" fill="#333">−</tspan><tspan dy="-5.7">6</tspan></text>
<text x="330.4" y="1695" font-size="81" textLength="84.2" lengthAdjust="spacingAndGlyphs">10</text>
<text x="411.0" y="1662" font-size="54">0</text>
<text x="608.6" y="1695" font-size="81" textLength="84.2" lengthAdjust="spacingAndGlyphs">10</text>
<text x="689.2" y="1662" font-size="54">1</text>
<text x="886.8" y="1695" font-size="81" textLength="84.2" lengthAdjust="spacingAndGlyphs">10</text>
<text x="967.4" y="1662" font-size="54">2</text>
<text x="1165.0" y="1695" font-size="81" textLength="84.2" lengthAdjust="spacingAndGlyphs">10</text>
<text x="1245.6" y="1662" font-size="54">3</text>
<text x="1443.2" y="1695" font-size="81" textLength="84.2" lengthAdjust="spacingAndGlyphs">10</text>
<text x="1523.8" y="1662" font-size="54">4</text>
<text x="1721.4" y="1695" font-size="81" textLength="84.2" lengthAdjust="spacingAndGlyphs">10</text>
<text x="1802.0" y="1662" font-size="54">5</text>
<text x="1999.6" y="1695" font-size="81" textLength="84.2" lengthAdjust="spacingAndGlyphs">10</text>
<text x="2080.2" y="1662" font-size="54">6</text>
<text x="1182.8 1216.27 1276.87 1335.2 1364.97 1401.04 1476.7" y="1849" font-size="116">log (ω)</text>
<g transform="translate(125.3,1116) rotate(-90)"><text x="-2.4 31.17 92.67 154.17" y="0" font-size="115">logσ<tspan x="221.17 258.08" y="32" font-size="78">ac</tspan><tspan x="290 318.47 352.29 416.16 449.28 501.81 595.99" y="0"> (S/cm)</tspan></text></g>
<rect x="526.15" y="111.80" width="27.2" height="27.2" fill="none" stroke="#000" stroke-width="4"/>
<circle cx="846.8" cy="126.6" r="16.3" fill="none" stroke="#e63c46" stroke-width="3.8"/>
<path d="M1176.4 112.6L1195.0 144.8L1157.8 144.8Z" fill="none" stroke="#006ecd" stroke-width="3.8" stroke-linejoin="miter"/>
<path d="M539.4 294.8L558.9 261.1L519.9 261.1Z" fill="none" stroke="#009b6e" stroke-width="3.8" stroke-linejoin="miter"/>
<path d="M847.8 259.2L867.8 280.2L847.8 301.2L827.8 280.2Z" fill="none" stroke="#af78d7" stroke-width="3.6"/>
<path d="M1156.1 278.9L1189.1 259.8L1189.1 298.0Z" fill="none" stroke="#d7a00a" stroke-width="3.8" stroke-linejoin="miter"/>
<text x="590.15" y="148.5" font-size="74">50°C</text>
<text x="887.85" y="148.5" font-size="74">100°C</text>
<text x="1222.3" y="148.5" font-size="74">150°C</text>
<text x="584.15" y="299" font-size="74">200°C</text>
<text x="890.8" y="299" font-size="74">250°C</text>
<text x="1222.5" y="299.5" font-size="74">300°C</text>
</svg></body></html>
